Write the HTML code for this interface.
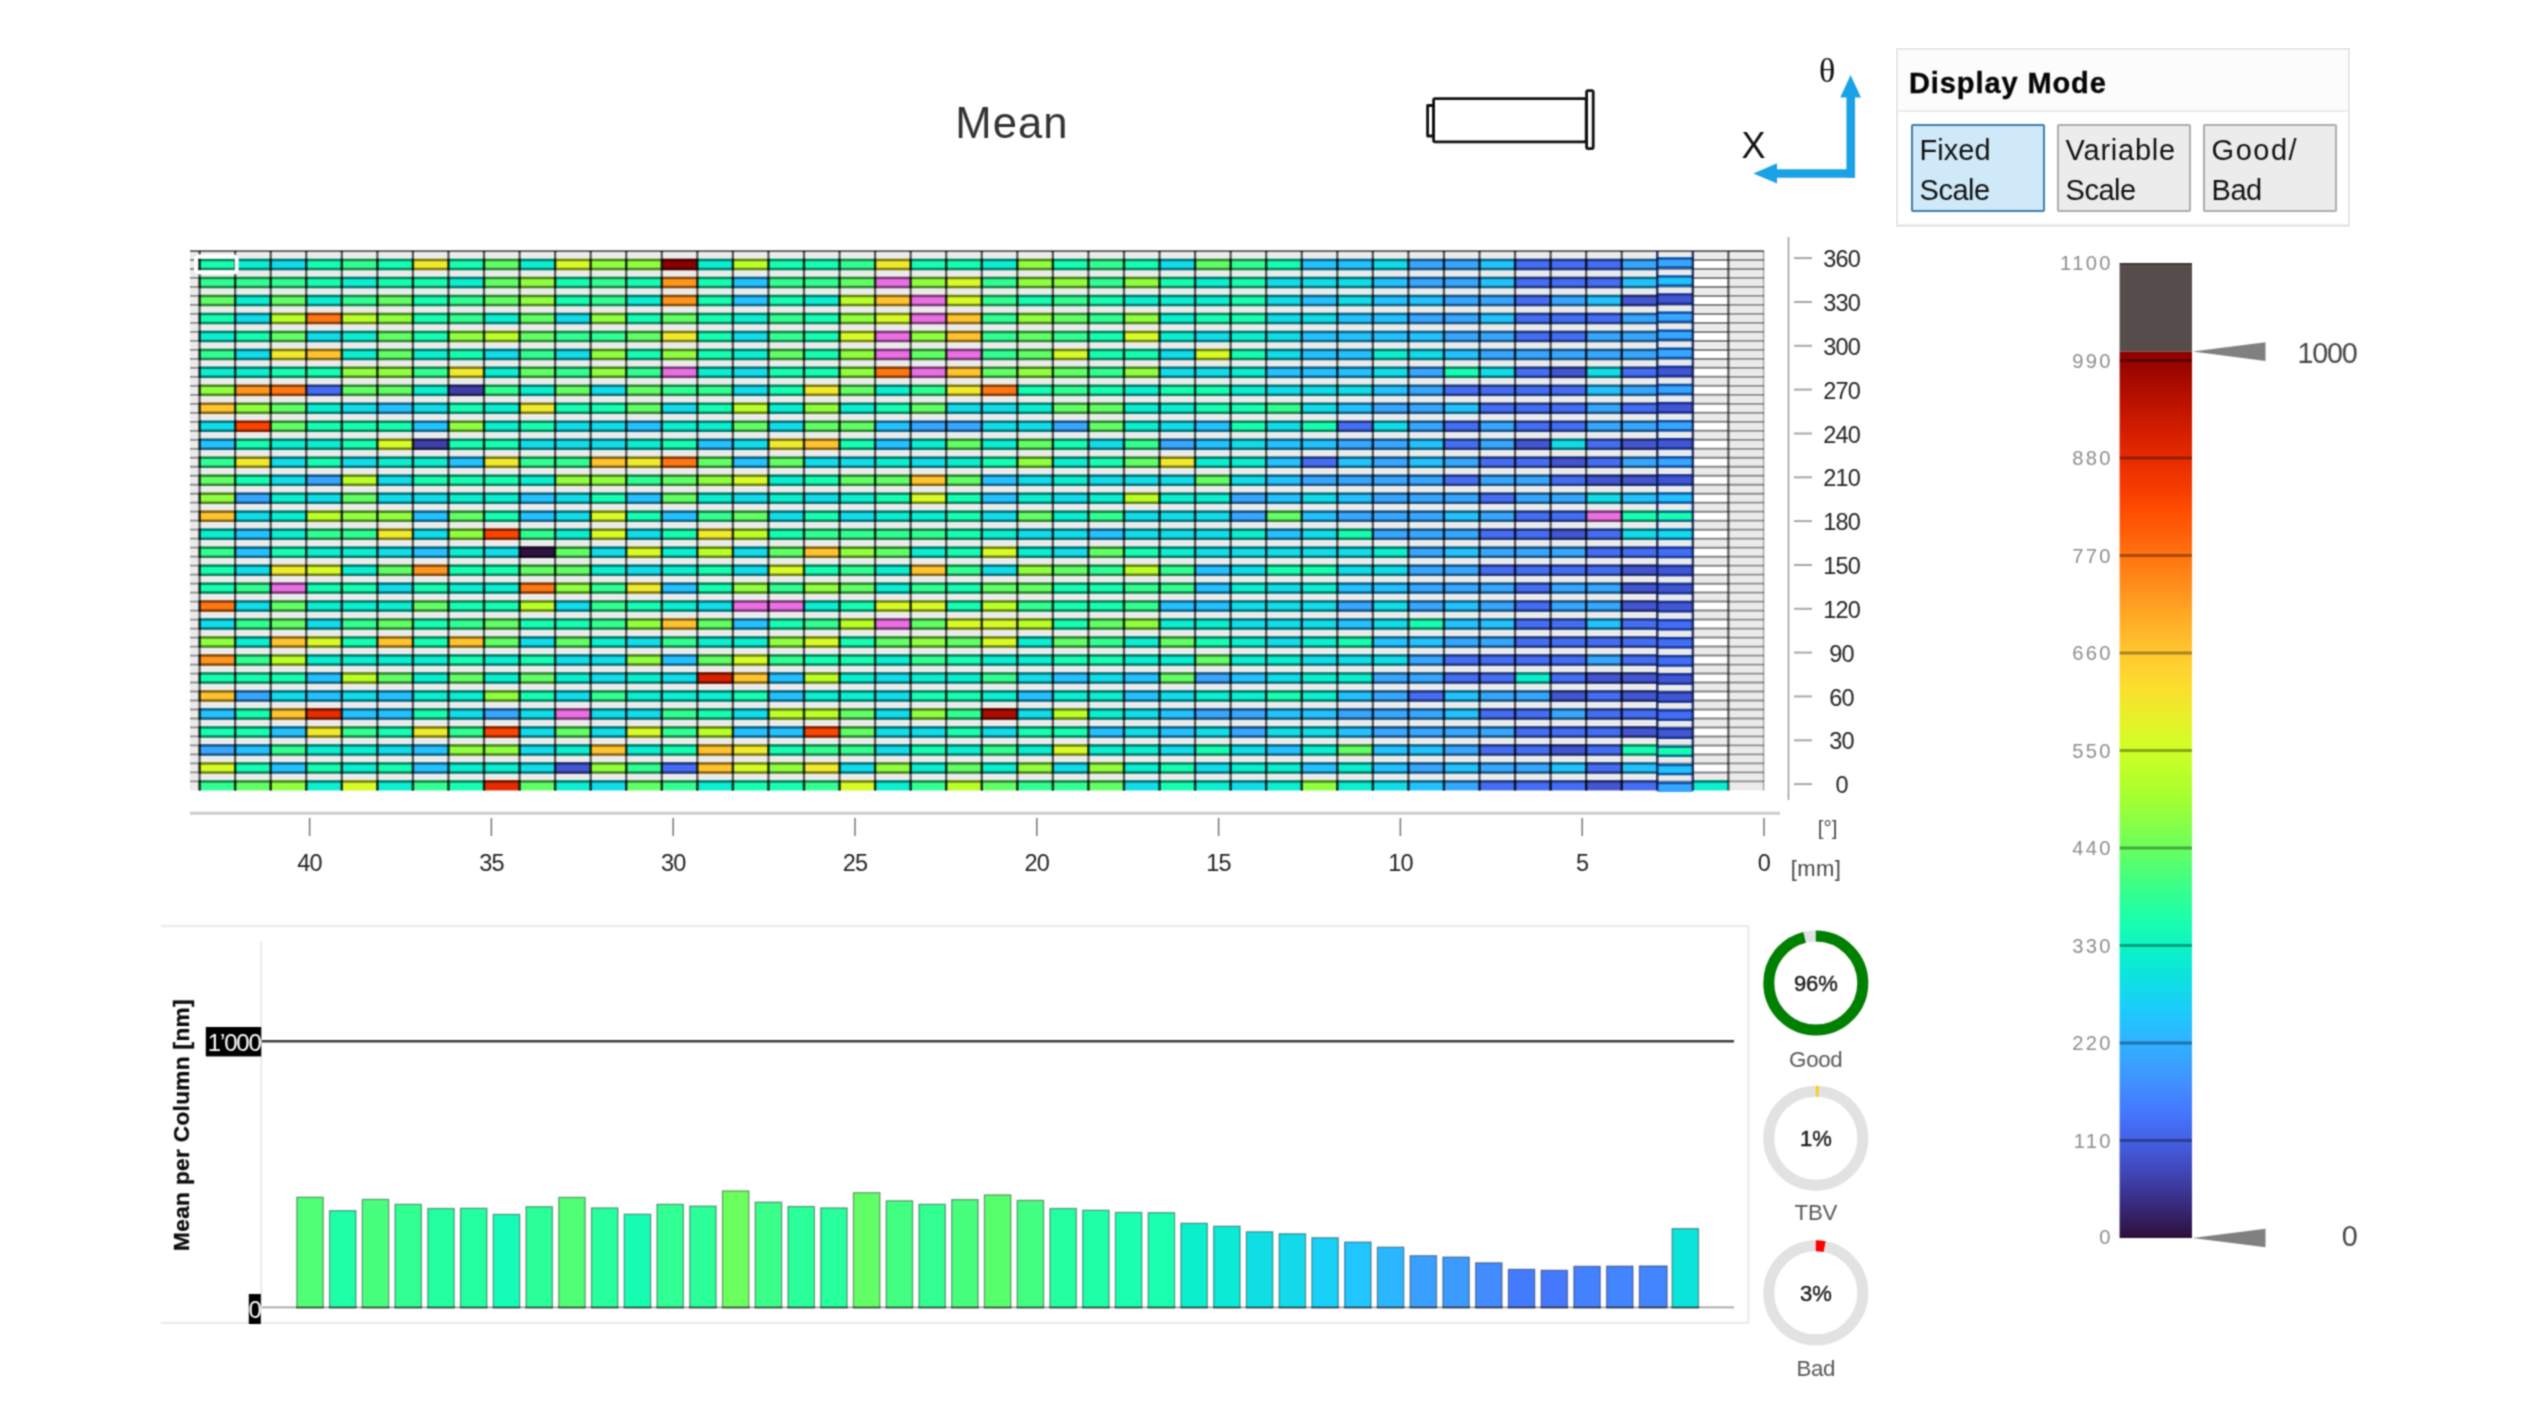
<!DOCTYPE html>
<html lang="en"><head><meta charset="utf-8"><title>Mean</title>
<style>
html,body{margin:0;padding:0;background:#fff;}
body{width:2533px;height:1425px;position:relative;overflow:hidden;font-family:"Liberation Sans",sans-serif;}
svg{position:absolute;left:0;top:0;}
svg{filter:url(#bl);}
#panel{filter:url(#bl);}
text{font-family:"Liberation Sans",sans-serif;}
.ax{font-size:23.5px;fill:#242424;letter-spacing:-0.8px;}
.unit{font-size:22px;fill:#484848;}
.cb{font-size:20.2px;fill:#8e8e8e;letter-spacing:2.35px;}
.cbv{font-size:28.8px;fill:#484848;letter-spacing:-1.25px;}
.yl{font-size:24px;fill:#fff;letter-spacing:-1.2px;}
.yt{font-size:22.6px;font-weight:bold;fill:#0c0c0c;stroke:#0c0c0c;stroke-width:0.3px;letter-spacing:0.35px;}
.dp{font-size:22px;fill:#1c1c1c;stroke:#1c1c1c;stroke-width:0.45px;letter-spacing:-0.2px;}
.dl{font-size:22.3px;fill:#5a5a5a;letter-spacing:-0.3px;}
.theta{font-family:"Liberation Serif",serif;font-size:34px;fill:#111;}
.xl{font-size:36px;fill:#111;}
.title{font-size:43.6px;fill:#333;letter-spacing:1.1px;}
#panel{position:absolute;left:1896px;top:47.6px;width:454px;height:178.4px;border:2px solid #e9e9e9;box-sizing:border-box;background:#fff;}
#panel h2{margin:0;height:62px;box-sizing:border-box;border-bottom:2px solid #ebebeb;background:#fcfcfc;font-size:29px;line-height:66.6px;padding-left:11px;font-weight:bold;color:#060606;letter-spacing:0.9px;-webkit-text-stroke:0.35px #060606;}
#panel .btns{position:absolute;left:0;top:0;}
.btn{position:absolute;top:74px;width:134px;height:88px;box-sizing:border-box;border:2px solid #adadad;background:#ececec;color:#111;font-size:29px;line-height:40.5px;padding:4.1px 0 0 6.6px;border-radius:2px;letter-spacing:-0.5px;white-space:nowrap;}
.btn.sel{border-color:#3c7fb1;background:#cfe9f8;}
</style></head><body>
<svg width="2533" height="1425" viewBox="0 0 2533 1425">
<defs><filter id="bl" x="0" y="0" width="100%" height="100%" color-interpolation-filters="sRGB"><feConvolveMatrix order="3" kernelMatrix="0.0484 0.1232 0.0484 0.1232 0.3136 0.1232 0.0484 0.1232 0.0484" edgeMode="duplicate" preserveAlpha="false"/></filter></defs>
<g id="rest">
<g fill="#fff" stroke="#111" stroke-width="2.8" stroke-linejoin="round">
<rect x="1427.6" y="105.5" width="6" height="30.5"/>
<rect x="1433.6" y="98.6" width="152.6" height="43.2" rx="1.5"/>
<rect x="1586.6" y="90.6" width="6.6" height="58" rx="1.5"/>
</g>
<g fill="#1ba1e6">
<path d="M1846.4 177.8V97.6H1840.2L1850.6 75L1861 97.6H1855V177.8Z"/>
<path d="M1855 169.2H1777V163.2L1753.4 173.4L1777 183.6V177.8H1855Z"/>
</g>
<text x="1827.2" y="82" text-anchor="middle" class="theta">θ</text>
<text x="1753.6" y="158.4" text-anchor="middle" class="xl">X</text>
<text x="1012" y="138" text-anchor="middle" class="title">Mean</text>
<path d="M1788.5 237V800" stroke="#9a9a9a" stroke-width="1.5" fill="none"/>
<path d="M1794 784.1H1812" stroke="#a8a8a8" stroke-width="2"/>
<text x="1841.6" y="793.2" text-anchor="middle" class="ax">0</text>
<path d="M1794 740.3H1812" stroke="#a8a8a8" stroke-width="2"/>
<text x="1841.6" y="749.4" text-anchor="middle" class="ax">30</text>
<path d="M1794 696.4H1812" stroke="#a8a8a8" stroke-width="2"/>
<text x="1841.6" y="705.5" text-anchor="middle" class="ax">60</text>
<path d="M1794 652.6H1812" stroke="#a8a8a8" stroke-width="2"/>
<text x="1841.6" y="661.7" text-anchor="middle" class="ax">90</text>
<path d="M1794 608.8H1812" stroke="#a8a8a8" stroke-width="2"/>
<text x="1841.6" y="617.9" text-anchor="middle" class="ax">120</text>
<path d="M1794 565.0H1812" stroke="#a8a8a8" stroke-width="2"/>
<text x="1841.6" y="574.1" text-anchor="middle" class="ax">150</text>
<path d="M1794 521.1H1812" stroke="#a8a8a8" stroke-width="2"/>
<text x="1841.6" y="530.2" text-anchor="middle" class="ax">180</text>
<path d="M1794 477.3H1812" stroke="#a8a8a8" stroke-width="2"/>
<text x="1841.6" y="486.4" text-anchor="middle" class="ax">210</text>
<path d="M1794 433.5H1812" stroke="#a8a8a8" stroke-width="2"/>
<text x="1841.6" y="442.6" text-anchor="middle" class="ax">240</text>
<path d="M1794 389.6H1812" stroke="#a8a8a8" stroke-width="2"/>
<text x="1841.6" y="398.7" text-anchor="middle" class="ax">270</text>
<path d="M1794 345.8H1812" stroke="#a8a8a8" stroke-width="2"/>
<text x="1841.6" y="354.9" text-anchor="middle" class="ax">300</text>
<path d="M1794 302.0H1812" stroke="#a8a8a8" stroke-width="2"/>
<text x="1841.6" y="311.1" text-anchor="middle" class="ax">330</text>
<path d="M1794 258.1H1812" stroke="#a8a8a8" stroke-width="2"/>
<text x="1841.6" y="267.2" text-anchor="middle" class="ax">360</text>
<path d="M190 813.3H1780" stroke="#cdcdcd" stroke-width="3"/>
<path d="M1764.0 818V836" stroke="#777" stroke-width="1.5"/>
<text x="1764.0" y="871" text-anchor="middle" class="ax">0</text>
<path d="M1582.2 818V836" stroke="#777" stroke-width="1.5"/>
<text x="1582.2" y="871" text-anchor="middle" class="ax">5</text>
<path d="M1400.4 818V836" stroke="#777" stroke-width="1.5"/>
<text x="1400.4" y="871" text-anchor="middle" class="ax">10</text>
<path d="M1218.6 818V836" stroke="#777" stroke-width="1.5"/>
<text x="1218.6" y="871" text-anchor="middle" class="ax">15</text>
<path d="M1036.8 818V836" stroke="#777" stroke-width="1.5"/>
<text x="1036.8" y="871" text-anchor="middle" class="ax">20</text>
<path d="M855.0 818V836" stroke="#777" stroke-width="1.5"/>
<text x="855.0" y="871" text-anchor="middle" class="ax">25</text>
<path d="M673.2 818V836" stroke="#777" stroke-width="1.5"/>
<text x="673.2" y="871" text-anchor="middle" class="ax">30</text>
<path d="M491.4 818V836" stroke="#777" stroke-width="1.5"/>
<text x="491.4" y="871" text-anchor="middle" class="ax">35</text>
<path d="M309.6 818V836" stroke="#777" stroke-width="1.5"/>
<text x="309.6" y="871" text-anchor="middle" class="ax">40</text>
<text x="1827.6" y="834.6" text-anchor="middle" class="unit" style="font-size:20.5px">[°]</text>
<text x="1816" y="876" text-anchor="middle" class="unit" style="letter-spacing:0.4px">[mm]</text>
<defs><linearGradient id="tg" x1="0" y1="0" x2="0" y2="1"><stop offset="0.000" stop-color="#890100"/><stop offset="0.020" stop-color="#9c0600"/><stop offset="0.040" stop-color="#ad0c00"/><stop offset="0.060" stop-color="#bd1200"/><stop offset="0.080" stop-color="#cc1a00"/><stop offset="0.100" stop-color="#d92200"/><stop offset="0.120" stop-color="#e52b00"/><stop offset="0.140" stop-color="#ef3500"/><stop offset="0.160" stop-color="#f83f00"/><stop offset="0.180" stop-color="#ff4e03"/><stop offset="0.200" stop-color="#ff5b07"/><stop offset="0.220" stop-color="#ff6b0d"/><stop offset="0.240" stop-color="#ff7b13"/><stop offset="0.260" stop-color="#ff8b1a"/><stop offset="0.280" stop-color="#ff9b20"/><stop offset="0.300" stop-color="#ffab26"/><stop offset="0.320" stop-color="#ffb92b"/><stop offset="0.340" stop-color="#ffc82e"/><stop offset="0.360" stop-color="#ffd32f"/><stop offset="0.380" stop-color="#fadf2d"/><stop offset="0.400" stop-color="#efea2b"/><stop offset="0.420" stop-color="#e2f328"/><stop offset="0.440" stop-color="#d5fc26"/><stop offset="0.460" stop-color="#c6ff26"/><stop offset="0.480" stop-color="#b7ff29"/><stop offset="0.500" stop-color="#a8ff2f"/><stop offset="0.520" stop-color="#94ff3c"/><stop offset="0.540" stop-color="#80ff4c"/><stop offset="0.560" stop-color="#6aff5d"/><stop offset="0.580" stop-color="#53ff71"/><stop offset="0.600" stop-color="#3eff85"/><stop offset="0.620" stop-color="#2bff99"/><stop offset="0.640" stop-color="#1bffab"/><stop offset="0.660" stop-color="#10f9bb"/><stop offset="0.680" stop-color="#0befcc"/><stop offset="0.700" stop-color="#0ce5db"/><stop offset="0.720" stop-color="#12daeb"/><stop offset="0.740" stop-color="#1bcdf9"/><stop offset="0.760" stop-color="#25c0ff"/><stop offset="0.780" stop-color="#2fb1ff"/><stop offset="0.800" stop-color="#39a3ff"/><stop offset="0.820" stop-color="#3f95ff"/><stop offset="0.840" stop-color="#4384ff"/><stop offset="0.860" stop-color="#4476fd"/><stop offset="0.880" stop-color="#4467ec"/><stop offset="0.900" stop-color="#4359d7"/><stop offset="0.920" stop-color="#404abe"/><stop offset="0.940" stop-color="#3d3ba1"/><stop offset="0.960" stop-color="#392c81"/><stop offset="0.980" stop-color="#331e5d"/><stop offset="1.000" stop-color="#2d0f38"/></linearGradient></defs>
<rect x="2119.6" y="263.0" width="72.4" height="88.6" fill="#564c4c"/>
<rect x="2119.6" y="351.6" width="72.4" height="886.4" fill="url(#tg)"/>
<path d="M2119.6 263.7H2192" stroke="#000" stroke-opacity="0.35" stroke-width="1.5"/>
<text x="2112.9" y="1244.1" text-anchor="end" class="cb">0</text>
<path d="M2119.6 1140.5H2192" stroke="#000" stroke-opacity="0.34" stroke-width="3"/>
<text x="2112.9" y="1147.8" text-anchor="end" class="cb">110</text>
<path d="M2119.6 1043.0H2192" stroke="#000" stroke-opacity="0.34" stroke-width="3"/>
<text x="2112.9" y="1050.3" text-anchor="end" class="cb">220</text>
<path d="M2119.6 945.5H2192" stroke="#000" stroke-opacity="0.34" stroke-width="3"/>
<text x="2112.9" y="952.8" text-anchor="end" class="cb">330</text>
<path d="M2119.6 848.0H2192" stroke="#000" stroke-opacity="0.34" stroke-width="3"/>
<text x="2112.9" y="855.3" text-anchor="end" class="cb">440</text>
<path d="M2119.6 750.5H2192" stroke="#000" stroke-opacity="0.34" stroke-width="3"/>
<text x="2112.9" y="757.8" text-anchor="end" class="cb">550</text>
<path d="M2119.6 653.0H2192" stroke="#000" stroke-opacity="0.34" stroke-width="3"/>
<text x="2112.9" y="660.3" text-anchor="end" class="cb">660</text>
<path d="M2119.6 555.5H2192" stroke="#000" stroke-opacity="0.34" stroke-width="3"/>
<text x="2112.9" y="562.8" text-anchor="end" class="cb">770</text>
<path d="M2119.6 458.0H2192" stroke="#000" stroke-opacity="0.34" stroke-width="3"/>
<text x="2112.9" y="465.3" text-anchor="end" class="cb">880</text>
<path d="M2119.6 360.5H2192" stroke="#000" stroke-opacity="0.34" stroke-width="3"/>
<text x="2112.9" y="367.8" text-anchor="end" class="cb">990</text>
<text x="2112.9" y="270.3" text-anchor="end" class="cb">1100</text>
<path d="M2192.5 351.6L2265.5 342.3V360.9Z" fill="#808080"/>
<text x="2356.6" y="363.2" text-anchor="end" class="cbv">1000</text>
<path d="M2192.5 1238.0L2265.5 1228.7V1247.3Z" fill="#808080"/>
<text x="2356.6" y="1246.4" text-anchor="end" class="cbv">0</text>
<path d="M161 926.2H1748.2V1322.8H161" fill="none" stroke="#ececec" stroke-width="2.2"/>
<path d="M261.3 941V1310" stroke="#e6e6e6" stroke-width="1.6"/>
<path d="M262 1307.3H1734" stroke="#a4a4a4" stroke-width="1.8"/>
<rect x="296.80" y="1197.25" width="26.40" height="110.45" fill="#4fff75" stroke="#000" stroke-opacity="0.38" stroke-width="1.3"/>
<rect x="329.55" y="1210.67" width="26.40" height="97.03" fill="#1effa8" stroke="#000" stroke-opacity="0.38" stroke-width="1.3"/>
<rect x="362.29" y="1199.42" width="26.40" height="108.28" fill="#47ff7d" stroke="#000" stroke-opacity="0.38" stroke-width="1.3"/>
<rect x="395.03" y="1204.35" width="26.40" height="103.35" fill="#32ff91" stroke="#000" stroke-opacity="0.38" stroke-width="1.3"/>
<rect x="427.78" y="1208.50" width="26.40" height="99.20" fill="#24ffa0" stroke="#000" stroke-opacity="0.38" stroke-width="1.3"/>
<rect x="460.52" y="1208.30" width="26.40" height="99.40" fill="#24ffa0" stroke="#000" stroke-opacity="0.38" stroke-width="1.3"/>
<rect x="493.27" y="1214.42" width="26.40" height="93.28" fill="#14fcb5" stroke="#000" stroke-opacity="0.38" stroke-width="1.3"/>
<rect x="526.01" y="1206.72" width="26.40" height="100.98" fill="#2bff99" stroke="#000" stroke-opacity="0.38" stroke-width="1.3"/>
<rect x="558.76" y="1197.45" width="26.40" height="110.25" fill="#4fff75" stroke="#000" stroke-opacity="0.38" stroke-width="1.3"/>
<rect x="591.50" y="1207.91" width="26.40" height="99.79" fill="#28ff9d" stroke="#000" stroke-opacity="0.38" stroke-width="1.3"/>
<rect x="624.25" y="1214.22" width="26.40" height="93.48" fill="#16fdb2" stroke="#000" stroke-opacity="0.38" stroke-width="1.3"/>
<rect x="657.00" y="1204.35" width="26.40" height="103.35" fill="#32ff91" stroke="#000" stroke-opacity="0.38" stroke-width="1.3"/>
<rect x="689.74" y="1206.13" width="26.40" height="101.57" fill="#2bff99" stroke="#000" stroke-opacity="0.38" stroke-width="1.3"/>
<rect x="722.49" y="1190.93" width="26.40" height="116.77" fill="#6aff5d" stroke="#000" stroke-opacity="0.38" stroke-width="1.3"/>
<rect x="755.23" y="1202.18" width="26.40" height="105.52" fill="#3aff89" stroke="#000" stroke-opacity="0.38" stroke-width="1.3"/>
<rect x="787.98" y="1206.53" width="26.40" height="101.17" fill="#2bff99" stroke="#000" stroke-opacity="0.38" stroke-width="1.3"/>
<rect x="820.72" y="1207.91" width="26.40" height="99.79" fill="#28ff9d" stroke="#000" stroke-opacity="0.38" stroke-width="1.3"/>
<rect x="853.47" y="1192.71" width="26.40" height="114.99" fill="#61ff65" stroke="#000" stroke-opacity="0.38" stroke-width="1.3"/>
<rect x="886.21" y="1200.80" width="26.40" height="106.90" fill="#42ff81" stroke="#000" stroke-opacity="0.38" stroke-width="1.3"/>
<rect x="918.96" y="1204.35" width="26.40" height="103.35" fill="#32ff91" stroke="#000" stroke-opacity="0.38" stroke-width="1.3"/>
<rect x="951.70" y="1199.62" width="26.40" height="108.08" fill="#47ff7d" stroke="#000" stroke-opacity="0.38" stroke-width="1.3"/>
<rect x="984.45" y="1194.88" width="26.40" height="112.82" fill="#58ff6d" stroke="#000" stroke-opacity="0.38" stroke-width="1.3"/>
<rect x="1017.19" y="1200.41" width="26.40" height="107.29" fill="#42ff81" stroke="#000" stroke-opacity="0.38" stroke-width="1.3"/>
<rect x="1049.93" y="1208.50" width="26.40" height="99.20" fill="#24ffa0" stroke="#000" stroke-opacity="0.38" stroke-width="1.3"/>
<rect x="1082.68" y="1210.28" width="26.40" height="97.42" fill="#1effa8" stroke="#000" stroke-opacity="0.38" stroke-width="1.3"/>
<rect x="1115.42" y="1212.45" width="26.40" height="95.25" fill="#19ffaf" stroke="#000" stroke-opacity="0.38" stroke-width="1.3"/>
<rect x="1148.17" y="1212.65" width="26.40" height="95.05" fill="#19ffaf" stroke="#000" stroke-opacity="0.38" stroke-width="1.3"/>
<rect x="1180.91" y="1223.30" width="26.40" height="84.40" fill="#0befcc" stroke="#000" stroke-opacity="0.38" stroke-width="1.3"/>
<rect x="1213.66" y="1226.27" width="26.40" height="81.43" fill="#0bead5" stroke="#000" stroke-opacity="0.38" stroke-width="1.3"/>
<rect x="1246.40" y="1231.79" width="26.40" height="75.91" fill="#0fdfe5" stroke="#000" stroke-opacity="0.38" stroke-width="1.3"/>
<rect x="1279.15" y="1233.77" width="26.40" height="73.93" fill="#12daeb" stroke="#000" stroke-opacity="0.38" stroke-width="1.3"/>
<rect x="1311.89" y="1237.71" width="26.40" height="69.99" fill="#19d0f7" stroke="#000" stroke-opacity="0.38" stroke-width="1.3"/>
<rect x="1344.64" y="1242.06" width="26.40" height="65.64" fill="#21c5ff" stroke="#000" stroke-opacity="0.38" stroke-width="1.3"/>
<rect x="1377.38" y="1247.19" width="26.40" height="60.51" fill="#2bb7ff" stroke="#000" stroke-opacity="0.38" stroke-width="1.3"/>
<rect x="1410.13" y="1255.68" width="26.40" height="52.02" fill="#3aa0ff" stroke="#000" stroke-opacity="0.38" stroke-width="1.3"/>
<rect x="1442.87" y="1257.06" width="26.40" height="50.64" fill="#3d9aff" stroke="#000" stroke-opacity="0.38" stroke-width="1.3"/>
<rect x="1475.62" y="1262.78" width="26.40" height="44.92" fill="#428cff" stroke="#000" stroke-opacity="0.38" stroke-width="1.3"/>
<rect x="1508.36" y="1269.30" width="26.40" height="38.40" fill="#437bff" stroke="#000" stroke-opacity="0.38" stroke-width="1.3"/>
<rect x="1541.11" y="1270.28" width="26.40" height="37.42" fill="#4479ff" stroke="#000" stroke-opacity="0.38" stroke-width="1.3"/>
<rect x="1573.85" y="1266.34" width="26.40" height="41.36" fill="#4381ff" stroke="#000" stroke-opacity="0.38" stroke-width="1.3"/>
<rect x="1606.60" y="1266.14" width="26.40" height="41.56" fill="#4384ff" stroke="#000" stroke-opacity="0.38" stroke-width="1.3"/>
<rect x="1639.34" y="1265.94" width="27.80" height="41.76" fill="#4384ff" stroke="#000" stroke-opacity="0.38" stroke-width="1.3"/>
<rect x="1672.09" y="1228.63" width="26.40" height="79.07" fill="#0ce5db" stroke="#000" stroke-opacity="0.38" stroke-width="1.3"/>
<path d="M296.2 1307.3H1700" stroke="#000" stroke-opacity="0.45" stroke-width="1.8" stroke-dasharray="27.6 5.145"/>
<path d="M262 1041.2H1734" stroke="#3c3c3c" stroke-width="2.4"/>
<rect x="205.8" y="1027" width="55.4" height="29.4" fill="#000"/>
<text x="260.6" y="1051.3" text-anchor="end" class="yl">1’000</text>
<rect x="248.8" y="1294" width="12" height="30" fill="#000"/>
<text x="260.6" y="1317.6" text-anchor="end" class="yl">0</text>
<text transform="translate(188.6 1125) rotate(-90)" text-anchor="middle" class="yt">Mean per Column [nm]</text>
<circle cx="1815.8" cy="983.0" r="47.0" fill="none" stroke="#e2e2e2" stroke-width="11.0"/>
<circle cx="1815.8" cy="983.0" r="47.0" fill="none" stroke="#008000" stroke-width="11.0" stroke-dasharray="283.50 295.31" transform="rotate(-90 1815.8 983.0)"/>
<text x="1815.8" y="991.0" text-anchor="middle" class="dp">96%</text>
<text x="1815.8" y="1066.5" text-anchor="middle" class="dl">Good</text>
<circle cx="1815.8" cy="1138.2" r="47.0" fill="none" stroke="#e2e2e2" stroke-width="11.0"/>
<circle cx="1815.8" cy="1138.2" r="47.0" fill="none" stroke="#f5d020" stroke-width="11.0" stroke-dasharray="2.95 295.31" transform="rotate(-90 1815.8 1138.2)"/>
<text x="1815.8" y="1146.2" text-anchor="middle" class="dp">1%</text>
<text x="1815.8" y="1220" text-anchor="middle" class="dl">TBV</text>
<circle cx="1815.8" cy="1292.8" r="47.0" fill="none" stroke="#e2e2e2" stroke-width="11.0"/>
<circle cx="1815.8" cy="1292.8" r="47.0" fill="none" stroke="#ff0000" stroke-width="11.0" stroke-dasharray="8.86 295.31" transform="rotate(-90 1815.8 1292.8)"/>
<text x="1815.8" y="1300.8" text-anchor="middle" class="dp">3%</text>
<text x="1815.8" y="1375.5" text-anchor="middle" class="dl">Bad</text>
</g>
<g id="heat">
<rect x="190.0" y="251.0" width="1573.93" height="539.40" fill="#ebebeb"/>
<path d="M190.0 251.00H1763.93M190.0 259.99H1763.93M190.0 268.98H1763.93M190.0 277.97H1763.93M190.0 286.96H1763.93M190.0 295.95H1763.93M190.0 304.94H1763.93M190.0 313.93H1763.93M190.0 322.92H1763.93M190.0 331.91H1763.93M190.0 340.90H1763.93M190.0 349.89H1763.93M190.0 358.88H1763.93M190.0 367.87H1763.93M190.0 376.86H1763.93M190.0 385.85H1763.93M190.0 394.84H1763.93M190.0 403.83H1763.93M190.0 412.82H1763.93M190.0 421.81H1763.93M190.0 430.80H1763.93M190.0 439.79H1763.93M190.0 448.78H1763.93M190.0 457.77H1763.93M190.0 466.76H1763.93M190.0 475.75H1763.93M190.0 484.74H1763.93M190.0 493.73H1763.93M190.0 502.72H1763.93M190.0 511.71H1763.93M190.0 520.70H1763.93M190.0 529.69H1763.93M190.0 538.68H1763.93M190.0 547.67H1763.93M190.0 556.66H1763.93M190.0 565.65H1763.93M190.0 574.64H1763.93M190.0 583.63H1763.93M190.0 592.62H1763.93M190.0 601.61H1763.93M190.0 610.60H1763.93M190.0 619.59H1763.93M190.0 628.58H1763.93M190.0 637.57H1763.93M190.0 646.56H1763.93M190.0 655.55H1763.93M190.0 664.54H1763.93M190.0 673.53H1763.93M190.0 682.52H1763.93M190.0 691.51H1763.93M190.0 700.50H1763.93M190.0 709.49H1763.93M190.0 718.48H1763.93M190.0 727.47H1763.93M190.0 736.46H1763.93M190.0 745.45H1763.93M190.0 754.44H1763.93M190.0 763.43H1763.93M190.0 772.42H1763.93M190.0 781.41H1763.93" stroke="#000" stroke-opacity="0.4" stroke-width="1.8" fill="none"/>
<rect x="199.60" y="258.74" width="35.55" height="11.49" fill="#16feb2"/>
<rect x="235.15" y="258.74" width="35.55" height="11.49" fill="#0beecf"/>
<rect x="270.71" y="258.74" width="35.55" height="11.49" fill="#11dce8"/>
<rect x="306.26" y="258.74" width="35.55" height="11.49" fill="#16feb2"/>
<rect x="341.81" y="258.74" width="35.55" height="11.49" fill="#32ff91"/>
<rect x="377.37" y="258.74" width="35.55" height="11.49" fill="#16feb2"/>
<rect x="412.92" y="258.74" width="35.55" height="11.49" fill="#efea2b"/>
<rect x="448.47" y="258.74" width="35.55" height="11.49" fill="#16feb2"/>
<rect x="484.02" y="258.74" width="35.55" height="11.49" fill="#61ff65"/>
<rect x="519.58" y="258.74" width="35.55" height="11.49" fill="#0beecf"/>
<rect x="555.13" y="258.74" width="35.55" height="11.49" fill="#d7fb27"/>
<rect x="590.68" y="258.74" width="71.11" height="11.49" fill="#90ff3f"/>
<rect x="661.79" y="258.74" width="35.55" height="11.49" fill="#890100"/>
<rect x="697.34" y="258.74" width="35.55" height="11.49" fill="#0beecf"/>
<rect x="732.89" y="258.74" width="35.55" height="11.49" fill="#baff28"/>
<rect x="768.45" y="258.74" width="71.11" height="11.49" fill="#16feb2"/>
<rect x="839.55" y="258.74" width="35.55" height="11.49" fill="#32ff91"/>
<rect x="875.11" y="258.74" width="35.55" height="11.49" fill="#efea2b"/>
<rect x="910.66" y="258.74" width="71.11" height="11.49" fill="#16feb2"/>
<rect x="981.77" y="258.74" width="35.55" height="11.49" fill="#0beecf"/>
<rect x="1017.32" y="258.74" width="35.55" height="11.49" fill="#90ff3f"/>
<rect x="1052.87" y="258.74" width="35.55" height="11.49" fill="#16feb2"/>
<rect x="1088.42" y="258.74" width="35.55" height="11.49" fill="#32ff91"/>
<rect x="1123.98" y="258.74" width="35.55" height="11.49" fill="#16feb2"/>
<rect x="1159.53" y="258.74" width="35.55" height="11.49" fill="#11dce8"/>
<rect x="1195.08" y="258.74" width="35.55" height="11.49" fill="#61ff65"/>
<rect x="1230.64" y="258.74" width="35.55" height="11.49" fill="#32ff91"/>
<rect x="1266.19" y="258.74" width="35.55" height="11.49" fill="#16feb2"/>
<rect x="1301.74" y="258.74" width="71.11" height="11.49" fill="#23c2ff"/>
<rect x="1372.85" y="258.74" width="35.55" height="11.49" fill="#11dce8"/>
<rect x="1408.40" y="258.74" width="71.11" height="11.49" fill="#37a6ff"/>
<rect x="1479.51" y="258.74" width="35.55" height="11.49" fill="#23c2ff"/>
<rect x="1515.06" y="258.74" width="106.66" height="11.49" fill="#446df3"/>
<rect x="1621.72" y="258.74" width="35.55" height="11.49" fill="#37a6ff"/>
<rect x="1657.27" y="257.17" width="35.55" height="11.56" fill="#37a6ff"/>
<rect x="1692.83" y="258.74" width="35.55" height="11.49" fill="#ffffff"/>
<rect x="199.60" y="276.72" width="106.66" height="11.49" fill="#32ff91"/>
<rect x="306.26" y="276.72" width="35.55" height="11.49" fill="#16feb2"/>
<rect x="341.81" y="276.72" width="35.55" height="11.49" fill="#0beecf"/>
<rect x="377.37" y="276.72" width="71.11" height="11.49" fill="#16feb2"/>
<rect x="448.47" y="276.72" width="35.55" height="11.49" fill="#0beecf"/>
<rect x="484.02" y="276.72" width="35.55" height="11.49" fill="#61ff65"/>
<rect x="519.58" y="276.72" width="35.55" height="11.49" fill="#90ff3f"/>
<rect x="555.13" y="276.72" width="35.55" height="11.49" fill="#16feb2"/>
<rect x="590.68" y="276.72" width="35.55" height="11.49" fill="#32ff91"/>
<rect x="626.24" y="276.72" width="35.55" height="11.49" fill="#16feb2"/>
<rect x="661.79" y="276.72" width="35.55" height="11.49" fill="#ff951e"/>
<rect x="697.34" y="276.72" width="35.55" height="11.49" fill="#16feb2"/>
<rect x="732.89" y="276.72" width="35.55" height="11.49" fill="#23c2ff"/>
<rect x="768.45" y="276.72" width="71.11" height="11.49" fill="#32ff91"/>
<rect x="839.55" y="276.72" width="35.55" height="11.49" fill="#61ff65"/>
<rect x="875.11" y="276.72" width="35.55" height="11.49" fill="#e96fe3"/>
<rect x="910.66" y="276.72" width="35.55" height="11.49" fill="#90ff3f"/>
<rect x="946.21" y="276.72" width="35.55" height="11.49" fill="#d7fb27"/>
<rect x="981.77" y="276.72" width="35.55" height="11.49" fill="#32ff91"/>
<rect x="1017.32" y="276.72" width="71.11" height="11.49" fill="#90ff3f"/>
<rect x="1088.42" y="276.72" width="35.55" height="11.49" fill="#32ff91"/>
<rect x="1123.98" y="276.72" width="35.55" height="11.49" fill="#90ff3f"/>
<rect x="1159.53" y="276.72" width="35.55" height="11.49" fill="#16feb2"/>
<rect x="1195.08" y="276.72" width="35.55" height="11.49" fill="#0beecf"/>
<rect x="1230.64" y="276.72" width="35.55" height="11.49" fill="#16feb2"/>
<rect x="1266.19" y="276.72" width="106.66" height="11.49" fill="#11dce8"/>
<rect x="1372.85" y="276.72" width="35.55" height="11.49" fill="#23c2ff"/>
<rect x="1408.40" y="276.72" width="71.11" height="11.49" fill="#37a6ff"/>
<rect x="1479.51" y="276.72" width="35.55" height="11.49" fill="#23c2ff"/>
<rect x="1515.06" y="276.72" width="106.66" height="11.49" fill="#446df3"/>
<rect x="1621.72" y="276.72" width="35.55" height="11.49" fill="#23c2ff"/>
<rect x="1657.27" y="275.26" width="35.55" height="11.56" fill="#23c2ff"/>
<rect x="1692.83" y="276.72" width="35.55" height="11.49" fill="#ffffff"/>
<rect x="199.60" y="294.70" width="35.55" height="11.49" fill="#61ff65"/>
<rect x="235.15" y="294.70" width="35.55" height="11.49" fill="#0beecf"/>
<rect x="270.71" y="294.70" width="35.55" height="11.49" fill="#61ff65"/>
<rect x="306.26" y="294.70" width="35.55" height="11.49" fill="#0beecf"/>
<rect x="341.81" y="294.70" width="35.55" height="11.49" fill="#32ff91"/>
<rect x="377.37" y="294.70" width="35.55" height="11.49" fill="#61ff65"/>
<rect x="412.92" y="294.70" width="35.55" height="11.49" fill="#16feb2"/>
<rect x="448.47" y="294.70" width="35.55" height="11.49" fill="#32ff91"/>
<rect x="484.02" y="294.70" width="35.55" height="11.49" fill="#61ff65"/>
<rect x="519.58" y="294.70" width="35.55" height="11.49" fill="#90ff3f"/>
<rect x="555.13" y="294.70" width="35.55" height="11.49" fill="#16feb2"/>
<rect x="590.68" y="294.70" width="35.55" height="11.49" fill="#32ff91"/>
<rect x="626.24" y="294.70" width="35.55" height="11.49" fill="#0beecf"/>
<rect x="661.79" y="294.70" width="35.55" height="11.49" fill="#ff951e"/>
<rect x="697.34" y="294.70" width="35.55" height="11.49" fill="#16feb2"/>
<rect x="732.89" y="294.70" width="35.55" height="11.49" fill="#23c2ff"/>
<rect x="768.45" y="294.70" width="35.55" height="11.49" fill="#16feb2"/>
<rect x="804.00" y="294.70" width="35.55" height="11.49" fill="#0beecf"/>
<rect x="839.55" y="294.70" width="35.55" height="11.49" fill="#baff28"/>
<rect x="875.11" y="294.70" width="35.55" height="11.49" fill="#ffc32d"/>
<rect x="910.66" y="294.70" width="35.55" height="11.49" fill="#e96fe3"/>
<rect x="946.21" y="294.70" width="35.55" height="11.49" fill="#d7fb27"/>
<rect x="981.77" y="294.70" width="35.55" height="11.49" fill="#32ff91"/>
<rect x="1017.32" y="294.70" width="35.55" height="11.49" fill="#16feb2"/>
<rect x="1052.87" y="294.70" width="35.55" height="11.49" fill="#32ff91"/>
<rect x="1088.42" y="294.70" width="35.55" height="11.49" fill="#16feb2"/>
<rect x="1123.98" y="294.70" width="106.66" height="11.49" fill="#0beecf"/>
<rect x="1230.64" y="294.70" width="35.55" height="11.49" fill="#16feb2"/>
<rect x="1266.19" y="294.70" width="35.55" height="11.49" fill="#11dce8"/>
<rect x="1301.74" y="294.70" width="35.55" height="11.49" fill="#23c2ff"/>
<rect x="1337.30" y="294.70" width="35.55" height="11.49" fill="#11dce8"/>
<rect x="1372.85" y="294.70" width="71.11" height="11.49" fill="#23c2ff"/>
<rect x="1443.95" y="294.70" width="71.11" height="11.49" fill="#37a6ff"/>
<rect x="1515.06" y="294.70" width="35.55" height="11.49" fill="#446df3"/>
<rect x="1550.61" y="294.70" width="35.55" height="11.49" fill="#37a6ff"/>
<rect x="1586.17" y="294.70" width="35.55" height="11.49" fill="#23c2ff"/>
<rect x="1621.72" y="294.70" width="35.55" height="11.49" fill="#4256d2"/>
<rect x="1657.27" y="293.34" width="35.55" height="11.56" fill="#4256d2"/>
<rect x="1692.83" y="294.70" width="35.55" height="11.49" fill="#ffffff"/>
<rect x="199.60" y="312.68" width="35.55" height="11.49" fill="#16feb2"/>
<rect x="235.15" y="312.68" width="35.55" height="11.49" fill="#11dce8"/>
<rect x="270.71" y="312.68" width="35.55" height="11.49" fill="#baff28"/>
<rect x="306.26" y="312.68" width="35.55" height="11.49" fill="#ff7712"/>
<rect x="341.81" y="312.68" width="35.55" height="11.49" fill="#baff28"/>
<rect x="377.37" y="312.68" width="35.55" height="11.49" fill="#90ff3f"/>
<rect x="412.92" y="312.68" width="35.55" height="11.49" fill="#16feb2"/>
<rect x="448.47" y="312.68" width="35.55" height="11.49" fill="#32ff91"/>
<rect x="484.02" y="312.68" width="35.55" height="11.49" fill="#0beecf"/>
<rect x="519.58" y="312.68" width="35.55" height="11.49" fill="#61ff65"/>
<rect x="555.13" y="312.68" width="35.55" height="11.49" fill="#11dce8"/>
<rect x="590.68" y="312.68" width="35.55" height="11.49" fill="#90ff3f"/>
<rect x="626.24" y="312.68" width="35.55" height="11.49" fill="#16feb2"/>
<rect x="661.79" y="312.68" width="35.55" height="11.49" fill="#61ff65"/>
<rect x="697.34" y="312.68" width="35.55" height="11.49" fill="#16feb2"/>
<rect x="732.89" y="312.68" width="35.55" height="11.49" fill="#0beecf"/>
<rect x="768.45" y="312.68" width="35.55" height="11.49" fill="#32ff91"/>
<rect x="804.00" y="312.68" width="35.55" height="11.49" fill="#16feb2"/>
<rect x="839.55" y="312.68" width="35.55" height="11.49" fill="#90ff3f"/>
<rect x="875.11" y="312.68" width="35.55" height="11.49" fill="#d7fb27"/>
<rect x="910.66" y="312.68" width="35.55" height="11.49" fill="#e96fe3"/>
<rect x="946.21" y="312.68" width="35.55" height="11.49" fill="#ffc32d"/>
<rect x="981.77" y="312.68" width="35.55" height="11.49" fill="#32ff91"/>
<rect x="1017.32" y="312.68" width="35.55" height="11.49" fill="#90ff3f"/>
<rect x="1052.87" y="312.68" width="35.55" height="11.49" fill="#61ff65"/>
<rect x="1088.42" y="312.68" width="35.55" height="11.49" fill="#32ff91"/>
<rect x="1123.98" y="312.68" width="35.55" height="11.49" fill="#90ff3f"/>
<rect x="1159.53" y="312.68" width="35.55" height="11.49" fill="#0beecf"/>
<rect x="1195.08" y="312.68" width="71.11" height="11.49" fill="#16feb2"/>
<rect x="1266.19" y="312.68" width="71.11" height="11.49" fill="#11dce8"/>
<rect x="1337.30" y="312.68" width="71.11" height="11.49" fill="#23c2ff"/>
<rect x="1408.40" y="312.68" width="71.11" height="11.49" fill="#37a6ff"/>
<rect x="1479.51" y="312.68" width="35.55" height="11.49" fill="#23c2ff"/>
<rect x="1515.06" y="312.68" width="106.66" height="11.49" fill="#446df3"/>
<rect x="1621.72" y="312.68" width="35.55" height="11.49" fill="#37a6ff"/>
<rect x="1657.27" y="311.43" width="35.55" height="11.56" fill="#37a6ff"/>
<rect x="1692.83" y="312.68" width="35.55" height="11.49" fill="#ffffff"/>
<rect x="199.60" y="330.66" width="35.55" height="11.49" fill="#0beecf"/>
<rect x="235.15" y="330.66" width="35.55" height="11.49" fill="#16feb2"/>
<rect x="270.71" y="330.66" width="35.55" height="11.49" fill="#61ff65"/>
<rect x="306.26" y="330.66" width="35.55" height="11.49" fill="#11dce8"/>
<rect x="341.81" y="330.66" width="35.55" height="11.49" fill="#0beecf"/>
<rect x="377.37" y="330.66" width="35.55" height="11.49" fill="#61ff65"/>
<rect x="412.92" y="330.66" width="35.55" height="11.49" fill="#16feb2"/>
<rect x="448.47" y="330.66" width="35.55" height="11.49" fill="#90ff3f"/>
<rect x="484.02" y="330.66" width="35.55" height="11.49" fill="#baff28"/>
<rect x="519.58" y="330.66" width="35.55" height="11.49" fill="#61ff65"/>
<rect x="555.13" y="330.66" width="71.11" height="11.49" fill="#32ff91"/>
<rect x="626.24" y="330.66" width="35.55" height="11.49" fill="#61ff65"/>
<rect x="661.79" y="330.66" width="35.55" height="11.49" fill="#efea2b"/>
<rect x="697.34" y="330.66" width="35.55" height="11.49" fill="#16feb2"/>
<rect x="732.89" y="330.66" width="35.55" height="11.49" fill="#11dce8"/>
<rect x="768.45" y="330.66" width="35.55" height="11.49" fill="#32ff91"/>
<rect x="804.00" y="330.66" width="35.55" height="11.49" fill="#16feb2"/>
<rect x="839.55" y="330.66" width="35.55" height="11.49" fill="#d7fb27"/>
<rect x="875.11" y="330.66" width="35.55" height="11.49" fill="#e96fe3"/>
<rect x="910.66" y="330.66" width="35.55" height="11.49" fill="#90ff3f"/>
<rect x="946.21" y="330.66" width="35.55" height="11.49" fill="#ffc32d"/>
<rect x="981.77" y="330.66" width="35.55" height="11.49" fill="#32ff91"/>
<rect x="1017.32" y="330.66" width="35.55" height="11.49" fill="#61ff65"/>
<rect x="1052.87" y="330.66" width="35.55" height="11.49" fill="#32ff91"/>
<rect x="1088.42" y="330.66" width="35.55" height="11.49" fill="#16feb2"/>
<rect x="1123.98" y="330.66" width="35.55" height="11.49" fill="#d7fb27"/>
<rect x="1159.53" y="330.66" width="35.55" height="11.49" fill="#0beecf"/>
<rect x="1195.08" y="330.66" width="35.55" height="11.49" fill="#11dce8"/>
<rect x="1230.64" y="330.66" width="35.55" height="11.49" fill="#0beecf"/>
<rect x="1266.19" y="330.66" width="35.55" height="11.49" fill="#11dce8"/>
<rect x="1301.74" y="330.66" width="142.21" height="11.49" fill="#23c2ff"/>
<rect x="1443.95" y="330.66" width="71.11" height="11.49" fill="#37a6ff"/>
<rect x="1515.06" y="330.66" width="71.11" height="11.49" fill="#446df3"/>
<rect x="1586.17" y="330.66" width="71.11" height="11.49" fill="#37a6ff"/>
<rect x="1657.27" y="329.52" width="35.55" height="11.56" fill="#37a6ff"/>
<rect x="1692.83" y="330.66" width="35.55" height="11.49" fill="#ffffff"/>
<rect x="199.60" y="348.64" width="35.55" height="11.49" fill="#32ff91"/>
<rect x="235.15" y="348.64" width="35.55" height="11.49" fill="#11dce8"/>
<rect x="270.71" y="348.64" width="35.55" height="11.49" fill="#efea2b"/>
<rect x="306.26" y="348.64" width="35.55" height="11.49" fill="#ffc32d"/>
<rect x="341.81" y="348.64" width="35.55" height="11.49" fill="#0beecf"/>
<rect x="377.37" y="348.64" width="35.55" height="11.49" fill="#61ff65"/>
<rect x="412.92" y="348.64" width="35.55" height="11.49" fill="#0beecf"/>
<rect x="448.47" y="348.64" width="35.55" height="11.49" fill="#16feb2"/>
<rect x="484.02" y="348.64" width="35.55" height="11.49" fill="#11dce8"/>
<rect x="519.58" y="348.64" width="35.55" height="11.49" fill="#32ff91"/>
<rect x="555.13" y="348.64" width="35.55" height="11.49" fill="#11dce8"/>
<rect x="590.68" y="348.64" width="35.55" height="11.49" fill="#90ff3f"/>
<rect x="626.24" y="348.64" width="35.55" height="11.49" fill="#16feb2"/>
<rect x="661.79" y="348.64" width="35.55" height="11.49" fill="#90ff3f"/>
<rect x="697.34" y="348.64" width="35.55" height="11.49" fill="#16feb2"/>
<rect x="732.89" y="348.64" width="35.55" height="11.49" fill="#0beecf"/>
<rect x="768.45" y="348.64" width="35.55" height="11.49" fill="#61ff65"/>
<rect x="804.00" y="348.64" width="35.55" height="11.49" fill="#16feb2"/>
<rect x="839.55" y="348.64" width="35.55" height="11.49" fill="#90ff3f"/>
<rect x="875.11" y="348.64" width="35.55" height="11.49" fill="#e96fe3"/>
<rect x="910.66" y="348.64" width="35.55" height="11.49" fill="#61ff65"/>
<rect x="946.21" y="348.64" width="35.55" height="11.49" fill="#e96fe3"/>
<rect x="981.77" y="348.64" width="35.55" height="11.49" fill="#32ff91"/>
<rect x="1017.32" y="348.64" width="35.55" height="11.49" fill="#61ff65"/>
<rect x="1052.87" y="348.64" width="35.55" height="11.49" fill="#d7fb27"/>
<rect x="1088.42" y="348.64" width="71.11" height="11.49" fill="#16feb2"/>
<rect x="1159.53" y="348.64" width="35.55" height="11.49" fill="#11dce8"/>
<rect x="1195.08" y="348.64" width="35.55" height="11.49" fill="#d7fb27"/>
<rect x="1230.64" y="348.64" width="35.55" height="11.49" fill="#16feb2"/>
<rect x="1266.19" y="348.64" width="35.55" height="11.49" fill="#11dce8"/>
<rect x="1301.74" y="348.64" width="71.11" height="11.49" fill="#23c2ff"/>
<rect x="1372.85" y="348.64" width="35.55" height="11.49" fill="#0beecf"/>
<rect x="1408.40" y="348.64" width="35.55" height="11.49" fill="#11dce8"/>
<rect x="1443.95" y="348.64" width="35.55" height="11.49" fill="#23c2ff"/>
<rect x="1479.51" y="348.64" width="177.76" height="11.49" fill="#37a6ff"/>
<rect x="1657.27" y="347.61" width="35.55" height="11.56" fill="#37a6ff"/>
<rect x="1692.83" y="348.64" width="35.55" height="11.49" fill="#ffffff"/>
<rect x="199.60" y="366.62" width="71.11" height="11.49" fill="#0beecf"/>
<rect x="270.71" y="366.62" width="71.11" height="11.49" fill="#16feb2"/>
<rect x="341.81" y="366.62" width="71.11" height="11.49" fill="#90ff3f"/>
<rect x="412.92" y="366.62" width="35.55" height="11.49" fill="#32ff91"/>
<rect x="448.47" y="366.62" width="35.55" height="11.49" fill="#efea2b"/>
<rect x="484.02" y="366.62" width="35.55" height="11.49" fill="#0beecf"/>
<rect x="519.58" y="366.62" width="35.55" height="11.49" fill="#61ff65"/>
<rect x="555.13" y="366.62" width="35.55" height="11.49" fill="#32ff91"/>
<rect x="590.68" y="366.62" width="35.55" height="11.49" fill="#90ff3f"/>
<rect x="626.24" y="366.62" width="35.55" height="11.49" fill="#32ff91"/>
<rect x="661.79" y="366.62" width="35.55" height="11.49" fill="#e96fe3"/>
<rect x="697.34" y="366.62" width="35.55" height="11.49" fill="#0beecf"/>
<rect x="732.89" y="366.62" width="35.55" height="11.49" fill="#11dce8"/>
<rect x="768.45" y="366.62" width="71.11" height="11.49" fill="#16feb2"/>
<rect x="839.55" y="366.62" width="35.55" height="11.49" fill="#90ff3f"/>
<rect x="875.11" y="366.62" width="35.55" height="11.49" fill="#ff7712"/>
<rect x="910.66" y="366.62" width="35.55" height="11.49" fill="#e96fe3"/>
<rect x="946.21" y="366.62" width="35.55" height="11.49" fill="#ffc32d"/>
<rect x="981.77" y="366.62" width="35.55" height="11.49" fill="#61ff65"/>
<rect x="1017.32" y="366.62" width="35.55" height="11.49" fill="#90ff3f"/>
<rect x="1052.87" y="366.62" width="35.55" height="11.49" fill="#61ff65"/>
<rect x="1088.42" y="366.62" width="35.55" height="11.49" fill="#32ff91"/>
<rect x="1123.98" y="366.62" width="35.55" height="11.49" fill="#90ff3f"/>
<rect x="1159.53" y="366.62" width="71.11" height="11.49" fill="#11dce8"/>
<rect x="1230.64" y="366.62" width="35.55" height="11.49" fill="#0beecf"/>
<rect x="1266.19" y="366.62" width="106.66" height="11.49" fill="#23c2ff"/>
<rect x="1372.85" y="366.62" width="35.55" height="11.49" fill="#11dce8"/>
<rect x="1408.40" y="366.62" width="35.55" height="11.49" fill="#37a6ff"/>
<rect x="1443.95" y="366.62" width="35.55" height="11.49" fill="#16feb2"/>
<rect x="1479.51" y="366.62" width="35.55" height="11.49" fill="#11dce8"/>
<rect x="1515.06" y="366.62" width="35.55" height="11.49" fill="#446df3"/>
<rect x="1550.61" y="366.62" width="35.55" height="11.49" fill="#4256d2"/>
<rect x="1586.17" y="366.62" width="35.55" height="11.49" fill="#11dce8"/>
<rect x="1621.72" y="366.62" width="35.55" height="11.49" fill="#446df3"/>
<rect x="1657.27" y="365.70" width="35.55" height="11.56" fill="#4256d2"/>
<rect x="1692.83" y="366.62" width="35.55" height="11.49" fill="#ffffff"/>
<rect x="199.60" y="384.60" width="35.55" height="11.49" fill="#90ff3f"/>
<rect x="235.15" y="384.60" width="35.55" height="11.49" fill="#ff951e"/>
<rect x="270.71" y="384.60" width="35.55" height="11.49" fill="#ff7712"/>
<rect x="306.26" y="384.60" width="35.55" height="11.49" fill="#446df3"/>
<rect x="341.81" y="384.60" width="71.11" height="11.49" fill="#61ff65"/>
<rect x="412.92" y="384.60" width="35.55" height="11.49" fill="#0beecf"/>
<rect x="448.47" y="384.60" width="35.55" height="11.49" fill="#3e3ea7"/>
<rect x="484.02" y="384.60" width="35.55" height="11.49" fill="#32ff91"/>
<rect x="519.58" y="384.60" width="35.55" height="11.49" fill="#0beecf"/>
<rect x="555.13" y="384.60" width="35.55" height="11.49" fill="#61ff65"/>
<rect x="590.68" y="384.60" width="35.55" height="11.49" fill="#11dce8"/>
<rect x="626.24" y="384.60" width="35.55" height="11.49" fill="#61ff65"/>
<rect x="661.79" y="384.60" width="71.11" height="11.49" fill="#32ff91"/>
<rect x="732.89" y="384.60" width="35.55" height="11.49" fill="#11dce8"/>
<rect x="768.45" y="384.60" width="35.55" height="11.49" fill="#16feb2"/>
<rect x="804.00" y="384.60" width="35.55" height="11.49" fill="#efea2b"/>
<rect x="839.55" y="384.60" width="35.55" height="11.49" fill="#61ff65"/>
<rect x="875.11" y="384.60" width="35.55" height="11.49" fill="#0beecf"/>
<rect x="910.66" y="384.60" width="35.55" height="11.49" fill="#32ff91"/>
<rect x="946.21" y="384.60" width="35.55" height="11.49" fill="#efea2b"/>
<rect x="981.77" y="384.60" width="35.55" height="11.49" fill="#ff7712"/>
<rect x="1017.32" y="384.60" width="35.55" height="11.49" fill="#16feb2"/>
<rect x="1052.87" y="384.60" width="35.55" height="11.49" fill="#32ff91"/>
<rect x="1088.42" y="384.60" width="35.55" height="11.49" fill="#16feb2"/>
<rect x="1123.98" y="384.60" width="35.55" height="11.49" fill="#0beecf"/>
<rect x="1159.53" y="384.60" width="71.11" height="11.49" fill="#16feb2"/>
<rect x="1230.64" y="384.60" width="35.55" height="11.49" fill="#0beecf"/>
<rect x="1266.19" y="384.60" width="106.66" height="11.49" fill="#11dce8"/>
<rect x="1372.85" y="384.60" width="35.55" height="11.49" fill="#23c2ff"/>
<rect x="1408.40" y="384.60" width="35.55" height="11.49" fill="#37a6ff"/>
<rect x="1443.95" y="384.60" width="142.21" height="11.49" fill="#446df3"/>
<rect x="1586.17" y="384.60" width="35.55" height="11.49" fill="#23c2ff"/>
<rect x="1621.72" y="384.60" width="35.55" height="11.49" fill="#37a6ff"/>
<rect x="1657.27" y="383.78" width="35.55" height="11.56" fill="#37a6ff"/>
<rect x="1692.83" y="384.60" width="35.55" height="11.49" fill="#ffffff"/>
<rect x="199.60" y="402.58" width="35.55" height="11.49" fill="#ffc32d"/>
<rect x="235.15" y="402.58" width="35.55" height="11.49" fill="#90ff3f"/>
<rect x="270.71" y="402.58" width="35.55" height="11.49" fill="#61ff65"/>
<rect x="306.26" y="402.58" width="35.55" height="11.49" fill="#0beecf"/>
<rect x="341.81" y="402.58" width="35.55" height="11.49" fill="#11dce8"/>
<rect x="377.37" y="402.58" width="35.55" height="11.49" fill="#23c2ff"/>
<rect x="412.92" y="402.58" width="35.55" height="11.49" fill="#11dce8"/>
<rect x="448.47" y="402.58" width="35.55" height="11.49" fill="#16feb2"/>
<rect x="484.02" y="402.58" width="35.55" height="11.49" fill="#0beecf"/>
<rect x="519.58" y="402.58" width="35.55" height="11.49" fill="#efea2b"/>
<rect x="555.13" y="402.58" width="71.11" height="11.49" fill="#16feb2"/>
<rect x="626.24" y="402.58" width="35.55" height="11.49" fill="#61ff65"/>
<rect x="661.79" y="402.58" width="35.55" height="11.49" fill="#11dce8"/>
<rect x="697.34" y="402.58" width="35.55" height="11.49" fill="#16feb2"/>
<rect x="732.89" y="402.58" width="35.55" height="11.49" fill="#baff28"/>
<rect x="768.45" y="402.58" width="35.55" height="11.49" fill="#0beecf"/>
<rect x="804.00" y="402.58" width="35.55" height="11.49" fill="#90ff3f"/>
<rect x="839.55" y="402.58" width="35.55" height="11.49" fill="#0beecf"/>
<rect x="875.11" y="402.58" width="35.55" height="11.49" fill="#16feb2"/>
<rect x="910.66" y="402.58" width="35.55" height="11.49" fill="#61ff65"/>
<rect x="946.21" y="402.58" width="71.11" height="11.49" fill="#11dce8"/>
<rect x="1017.32" y="402.58" width="35.55" height="11.49" fill="#0beecf"/>
<rect x="1052.87" y="402.58" width="71.11" height="11.49" fill="#61ff65"/>
<rect x="1123.98" y="402.58" width="71.11" height="11.49" fill="#0beecf"/>
<rect x="1195.08" y="402.58" width="71.11" height="11.49" fill="#16feb2"/>
<rect x="1266.19" y="402.58" width="35.55" height="11.49" fill="#32ff91"/>
<rect x="1301.74" y="402.58" width="35.55" height="11.49" fill="#11dce8"/>
<rect x="1337.30" y="402.58" width="35.55" height="11.49" fill="#23c2ff"/>
<rect x="1372.85" y="402.58" width="71.11" height="11.49" fill="#37a6ff"/>
<rect x="1443.95" y="402.58" width="35.55" height="11.49" fill="#23c2ff"/>
<rect x="1479.51" y="402.58" width="106.66" height="11.49" fill="#446df3"/>
<rect x="1586.17" y="402.58" width="35.55" height="11.49" fill="#37a6ff"/>
<rect x="1621.72" y="402.58" width="35.55" height="11.49" fill="#446df3"/>
<rect x="1657.27" y="401.87" width="35.55" height="11.56" fill="#4256d2"/>
<rect x="1692.83" y="402.58" width="35.55" height="11.49" fill="#ffffff"/>
<rect x="199.60" y="420.56" width="35.55" height="11.49" fill="#11dce8"/>
<rect x="235.15" y="420.56" width="35.55" height="11.49" fill="#fb4400"/>
<rect x="270.71" y="420.56" width="35.55" height="11.49" fill="#61ff65"/>
<rect x="306.26" y="420.56" width="106.66" height="11.49" fill="#16feb2"/>
<rect x="412.92" y="420.56" width="35.55" height="11.49" fill="#23c2ff"/>
<rect x="448.47" y="420.56" width="35.55" height="11.49" fill="#90ff3f"/>
<rect x="484.02" y="420.56" width="35.55" height="11.49" fill="#0beecf"/>
<rect x="519.58" y="420.56" width="35.55" height="11.49" fill="#16feb2"/>
<rect x="555.13" y="420.56" width="71.11" height="11.49" fill="#11dce8"/>
<rect x="626.24" y="420.56" width="35.55" height="11.49" fill="#23c2ff"/>
<rect x="661.79" y="420.56" width="71.11" height="11.49" fill="#0beecf"/>
<rect x="732.89" y="420.56" width="35.55" height="11.49" fill="#61ff65"/>
<rect x="768.45" y="420.56" width="35.55" height="11.49" fill="#11dce8"/>
<rect x="804.00" y="420.56" width="71.11" height="11.49" fill="#61ff65"/>
<rect x="875.11" y="420.56" width="35.55" height="11.49" fill="#23c2ff"/>
<rect x="910.66" y="420.56" width="71.11" height="11.49" fill="#37a6ff"/>
<rect x="981.77" y="420.56" width="71.11" height="11.49" fill="#11dce8"/>
<rect x="1052.87" y="420.56" width="35.55" height="11.49" fill="#37a6ff"/>
<rect x="1088.42" y="420.56" width="35.55" height="11.49" fill="#61ff65"/>
<rect x="1123.98" y="420.56" width="35.55" height="11.49" fill="#0beecf"/>
<rect x="1159.53" y="420.56" width="35.55" height="11.49" fill="#11dce8"/>
<rect x="1195.08" y="420.56" width="35.55" height="11.49" fill="#23c2ff"/>
<rect x="1230.64" y="420.56" width="35.55" height="11.49" fill="#16feb2"/>
<rect x="1266.19" y="420.56" width="35.55" height="11.49" fill="#11dce8"/>
<rect x="1301.74" y="420.56" width="35.55" height="11.49" fill="#16feb2"/>
<rect x="1337.30" y="420.56" width="35.55" height="11.49" fill="#446df3"/>
<rect x="1372.85" y="420.56" width="35.55" height="11.49" fill="#11dce8"/>
<rect x="1408.40" y="420.56" width="35.55" height="11.49" fill="#37a6ff"/>
<rect x="1443.95" y="420.56" width="35.55" height="11.49" fill="#446df3"/>
<rect x="1479.51" y="420.56" width="35.55" height="11.49" fill="#37a6ff"/>
<rect x="1515.06" y="420.56" width="71.11" height="11.49" fill="#446df3"/>
<rect x="1586.17" y="420.56" width="71.11" height="11.49" fill="#37a6ff"/>
<rect x="1657.27" y="419.96" width="35.55" height="11.56" fill="#37a6ff"/>
<rect x="1692.83" y="420.56" width="35.55" height="11.49" fill="#ffffff"/>
<rect x="199.60" y="438.54" width="35.55" height="11.49" fill="#23c2ff"/>
<rect x="235.15" y="438.54" width="35.55" height="11.49" fill="#16feb2"/>
<rect x="270.71" y="438.54" width="71.11" height="11.49" fill="#0beecf"/>
<rect x="341.81" y="438.54" width="35.55" height="11.49" fill="#16feb2"/>
<rect x="377.37" y="438.54" width="35.55" height="11.49" fill="#d7fb27"/>
<rect x="412.92" y="438.54" width="35.55" height="11.49" fill="#3e3ea7"/>
<rect x="448.47" y="438.54" width="71.11" height="11.49" fill="#16feb2"/>
<rect x="519.58" y="438.54" width="106.66" height="11.49" fill="#11dce8"/>
<rect x="626.24" y="438.54" width="35.55" height="11.49" fill="#0beecf"/>
<rect x="661.79" y="438.54" width="35.55" height="11.49" fill="#16feb2"/>
<rect x="697.34" y="438.54" width="35.55" height="11.49" fill="#23c2ff"/>
<rect x="732.89" y="438.54" width="35.55" height="11.49" fill="#11dce8"/>
<rect x="768.45" y="438.54" width="35.55" height="11.49" fill="#efea2b"/>
<rect x="804.00" y="438.54" width="35.55" height="11.49" fill="#ffc32d"/>
<rect x="839.55" y="438.54" width="35.55" height="11.49" fill="#16feb2"/>
<rect x="875.11" y="438.54" width="35.55" height="11.49" fill="#23c2ff"/>
<rect x="910.66" y="438.54" width="35.55" height="11.49" fill="#0beecf"/>
<rect x="946.21" y="438.54" width="35.55" height="11.49" fill="#61ff65"/>
<rect x="981.77" y="438.54" width="35.55" height="11.49" fill="#0beecf"/>
<rect x="1017.32" y="438.54" width="35.55" height="11.49" fill="#61ff65"/>
<rect x="1052.87" y="438.54" width="35.55" height="11.49" fill="#16feb2"/>
<rect x="1088.42" y="438.54" width="35.55" height="11.49" fill="#11dce8"/>
<rect x="1123.98" y="438.54" width="35.55" height="11.49" fill="#32ff91"/>
<rect x="1159.53" y="438.54" width="35.55" height="11.49" fill="#37a6ff"/>
<rect x="1195.08" y="438.54" width="35.55" height="11.49" fill="#23c2ff"/>
<rect x="1230.64" y="438.54" width="35.55" height="11.49" fill="#11dce8"/>
<rect x="1266.19" y="438.54" width="71.11" height="11.49" fill="#23c2ff"/>
<rect x="1337.30" y="438.54" width="71.11" height="11.49" fill="#37a6ff"/>
<rect x="1408.40" y="438.54" width="35.55" height="11.49" fill="#23c2ff"/>
<rect x="1443.95" y="438.54" width="35.55" height="11.49" fill="#446df3"/>
<rect x="1479.51" y="438.54" width="35.55" height="11.49" fill="#37a6ff"/>
<rect x="1515.06" y="438.54" width="35.55" height="11.49" fill="#4256d2"/>
<rect x="1550.61" y="438.54" width="35.55" height="11.49" fill="#11dce8"/>
<rect x="1586.17" y="438.54" width="35.55" height="11.49" fill="#446df3"/>
<rect x="1621.72" y="438.54" width="35.55" height="11.49" fill="#4256d2"/>
<rect x="1657.27" y="438.05" width="35.55" height="11.56" fill="#4256d2"/>
<rect x="1692.83" y="438.54" width="35.55" height="11.49" fill="#ffffff"/>
<rect x="199.60" y="456.52" width="35.55" height="11.49" fill="#32ff91"/>
<rect x="235.15" y="456.52" width="35.55" height="11.49" fill="#efea2b"/>
<rect x="270.71" y="456.52" width="35.55" height="11.49" fill="#11dce8"/>
<rect x="306.26" y="456.52" width="35.55" height="11.49" fill="#16feb2"/>
<rect x="341.81" y="456.52" width="35.55" height="11.49" fill="#11dce8"/>
<rect x="377.37" y="456.52" width="71.11" height="11.49" fill="#0beecf"/>
<rect x="448.47" y="456.52" width="35.55" height="11.49" fill="#23c2ff"/>
<rect x="484.02" y="456.52" width="35.55" height="11.49" fill="#efea2b"/>
<rect x="519.58" y="456.52" width="71.11" height="11.49" fill="#32ff91"/>
<rect x="590.68" y="456.52" width="35.55" height="11.49" fill="#ffc32d"/>
<rect x="626.24" y="456.52" width="35.55" height="11.49" fill="#efea2b"/>
<rect x="661.79" y="456.52" width="35.55" height="11.49" fill="#ff7712"/>
<rect x="697.34" y="456.52" width="35.55" height="11.49" fill="#61ff65"/>
<rect x="732.89" y="456.52" width="35.55" height="11.49" fill="#23c2ff"/>
<rect x="768.45" y="456.52" width="35.55" height="11.49" fill="#61ff65"/>
<rect x="804.00" y="456.52" width="71.11" height="11.49" fill="#11dce8"/>
<rect x="875.11" y="456.52" width="35.55" height="11.49" fill="#0beecf"/>
<rect x="910.66" y="456.52" width="35.55" height="11.49" fill="#11dce8"/>
<rect x="946.21" y="456.52" width="35.55" height="11.49" fill="#0beecf"/>
<rect x="981.77" y="456.52" width="35.55" height="11.49" fill="#16feb2"/>
<rect x="1017.32" y="456.52" width="35.55" height="11.49" fill="#90ff3f"/>
<rect x="1052.87" y="456.52" width="35.55" height="11.49" fill="#0beecf"/>
<rect x="1088.42" y="456.52" width="35.55" height="11.49" fill="#16feb2"/>
<rect x="1123.98" y="456.52" width="35.55" height="11.49" fill="#61ff65"/>
<rect x="1159.53" y="456.52" width="35.55" height="11.49" fill="#efea2b"/>
<rect x="1195.08" y="456.52" width="71.11" height="11.49" fill="#0beecf"/>
<rect x="1266.19" y="456.52" width="35.55" height="11.49" fill="#23c2ff"/>
<rect x="1301.74" y="456.52" width="35.55" height="11.49" fill="#446df3"/>
<rect x="1337.30" y="456.52" width="35.55" height="11.49" fill="#23c2ff"/>
<rect x="1372.85" y="456.52" width="35.55" height="11.49" fill="#37a6ff"/>
<rect x="1408.40" y="456.52" width="35.55" height="11.49" fill="#23c2ff"/>
<rect x="1443.95" y="456.52" width="35.55" height="11.49" fill="#37a6ff"/>
<rect x="1479.51" y="456.52" width="71.11" height="11.49" fill="#446df3"/>
<rect x="1550.61" y="456.52" width="35.55" height="11.49" fill="#4256d2"/>
<rect x="1586.17" y="456.52" width="35.55" height="11.49" fill="#446df3"/>
<rect x="1621.72" y="456.52" width="35.55" height="11.49" fill="#37a6ff"/>
<rect x="1657.27" y="456.13" width="35.55" height="11.56" fill="#37a6ff"/>
<rect x="1692.83" y="456.52" width="35.55" height="11.49" fill="#ffffff"/>
<rect x="199.60" y="474.50" width="35.55" height="11.49" fill="#61ff65"/>
<rect x="235.15" y="474.50" width="35.55" height="11.49" fill="#16feb2"/>
<rect x="270.71" y="474.50" width="35.55" height="11.49" fill="#11dce8"/>
<rect x="306.26" y="474.50" width="35.55" height="11.49" fill="#37a6ff"/>
<rect x="341.81" y="474.50" width="35.55" height="11.49" fill="#baff28"/>
<rect x="377.37" y="474.50" width="35.55" height="11.49" fill="#11dce8"/>
<rect x="412.92" y="474.50" width="106.66" height="11.49" fill="#16feb2"/>
<rect x="519.58" y="474.50" width="35.55" height="11.49" fill="#0beecf"/>
<rect x="555.13" y="474.50" width="71.11" height="11.49" fill="#90ff3f"/>
<rect x="626.24" y="474.50" width="35.55" height="11.49" fill="#32ff91"/>
<rect x="661.79" y="474.50" width="35.55" height="11.49" fill="#61ff65"/>
<rect x="697.34" y="474.50" width="35.55" height="11.49" fill="#90ff3f"/>
<rect x="732.89" y="474.50" width="35.55" height="11.49" fill="#d7fb27"/>
<rect x="768.45" y="474.50" width="35.55" height="11.49" fill="#0beecf"/>
<rect x="804.00" y="474.50" width="35.55" height="11.49" fill="#16feb2"/>
<rect x="839.55" y="474.50" width="71.11" height="11.49" fill="#61ff65"/>
<rect x="910.66" y="474.50" width="35.55" height="11.49" fill="#ffc32d"/>
<rect x="946.21" y="474.50" width="35.55" height="11.49" fill="#61ff65"/>
<rect x="981.77" y="474.50" width="35.55" height="11.49" fill="#23c2ff"/>
<rect x="1017.32" y="474.50" width="35.55" height="11.49" fill="#11dce8"/>
<rect x="1052.87" y="474.50" width="35.55" height="11.49" fill="#0beecf"/>
<rect x="1088.42" y="474.50" width="106.66" height="11.49" fill="#11dce8"/>
<rect x="1195.08" y="474.50" width="35.55" height="11.49" fill="#61ff65"/>
<rect x="1230.64" y="474.50" width="35.55" height="11.49" fill="#11dce8"/>
<rect x="1266.19" y="474.50" width="35.55" height="11.49" fill="#23c2ff"/>
<rect x="1301.74" y="474.50" width="142.21" height="11.49" fill="#37a6ff"/>
<rect x="1443.95" y="474.50" width="35.55" height="11.49" fill="#446df3"/>
<rect x="1479.51" y="474.50" width="71.11" height="11.49" fill="#37a6ff"/>
<rect x="1550.61" y="474.50" width="35.55" height="11.49" fill="#446df3"/>
<rect x="1586.17" y="474.50" width="71.11" height="11.49" fill="#4256d2"/>
<rect x="1657.27" y="474.22" width="35.55" height="11.56" fill="#4256d2"/>
<rect x="1692.83" y="474.50" width="35.55" height="11.49" fill="#ffffff"/>
<rect x="199.60" y="492.48" width="35.55" height="11.49" fill="#90ff3f"/>
<rect x="235.15" y="492.48" width="35.55" height="11.49" fill="#37a6ff"/>
<rect x="270.71" y="492.48" width="35.55" height="11.49" fill="#0beecf"/>
<rect x="306.26" y="492.48" width="35.55" height="11.49" fill="#11dce8"/>
<rect x="341.81" y="492.48" width="35.55" height="11.49" fill="#61ff65"/>
<rect x="377.37" y="492.48" width="71.11" height="11.49" fill="#11dce8"/>
<rect x="448.47" y="492.48" width="71.11" height="11.49" fill="#0beecf"/>
<rect x="519.58" y="492.48" width="35.55" height="11.49" fill="#23c2ff"/>
<rect x="555.13" y="492.48" width="35.55" height="11.49" fill="#11dce8"/>
<rect x="590.68" y="492.48" width="35.55" height="11.49" fill="#16feb2"/>
<rect x="626.24" y="492.48" width="35.55" height="11.49" fill="#23c2ff"/>
<rect x="661.79" y="492.48" width="35.55" height="11.49" fill="#61ff65"/>
<rect x="697.34" y="492.48" width="35.55" height="11.49" fill="#0beecf"/>
<rect x="732.89" y="492.48" width="35.55" height="11.49" fill="#11dce8"/>
<rect x="768.45" y="492.48" width="35.55" height="11.49" fill="#0beecf"/>
<rect x="804.00" y="492.48" width="35.55" height="11.49" fill="#11dce8"/>
<rect x="839.55" y="492.48" width="35.55" height="11.49" fill="#0beecf"/>
<rect x="875.11" y="492.48" width="35.55" height="11.49" fill="#16feb2"/>
<rect x="910.66" y="492.48" width="35.55" height="11.49" fill="#d7fb27"/>
<rect x="946.21" y="492.48" width="35.55" height="11.49" fill="#16feb2"/>
<rect x="981.77" y="492.48" width="35.55" height="11.49" fill="#23c2ff"/>
<rect x="1017.32" y="492.48" width="35.55" height="11.49" fill="#0beecf"/>
<rect x="1052.87" y="492.48" width="35.55" height="11.49" fill="#11dce8"/>
<rect x="1088.42" y="492.48" width="35.55" height="11.49" fill="#0beecf"/>
<rect x="1123.98" y="492.48" width="35.55" height="11.49" fill="#baff28"/>
<rect x="1159.53" y="492.48" width="71.11" height="11.49" fill="#0beecf"/>
<rect x="1230.64" y="492.48" width="35.55" height="11.49" fill="#37a6ff"/>
<rect x="1266.19" y="492.48" width="35.55" height="11.49" fill="#23c2ff"/>
<rect x="1301.74" y="492.48" width="35.55" height="11.49" fill="#11dce8"/>
<rect x="1337.30" y="492.48" width="35.55" height="11.49" fill="#23c2ff"/>
<rect x="1372.85" y="492.48" width="106.66" height="11.49" fill="#37a6ff"/>
<rect x="1479.51" y="492.48" width="35.55" height="11.49" fill="#446df3"/>
<rect x="1515.06" y="492.48" width="71.11" height="11.49" fill="#37a6ff"/>
<rect x="1586.17" y="492.48" width="35.55" height="11.49" fill="#11dce8"/>
<rect x="1621.72" y="492.48" width="35.55" height="11.49" fill="#23c2ff"/>
<rect x="1657.27" y="492.31" width="35.55" height="11.56" fill="#23c2ff"/>
<rect x="1692.83" y="492.48" width="35.55" height="11.49" fill="#ffffff"/>
<rect x="199.60" y="510.46" width="35.55" height="11.49" fill="#ffc32d"/>
<rect x="235.15" y="510.46" width="35.55" height="11.49" fill="#11dce8"/>
<rect x="270.71" y="510.46" width="35.55" height="11.49" fill="#0beecf"/>
<rect x="306.26" y="510.46" width="35.55" height="11.49" fill="#baff28"/>
<rect x="341.81" y="510.46" width="71.11" height="11.49" fill="#90ff3f"/>
<rect x="412.92" y="510.46" width="35.55" height="11.49" fill="#23c2ff"/>
<rect x="448.47" y="510.46" width="35.55" height="11.49" fill="#61ff65"/>
<rect x="484.02" y="510.46" width="35.55" height="11.49" fill="#16feb2"/>
<rect x="519.58" y="510.46" width="35.55" height="11.49" fill="#23c2ff"/>
<rect x="555.13" y="510.46" width="35.55" height="11.49" fill="#11dce8"/>
<rect x="590.68" y="510.46" width="35.55" height="11.49" fill="#d7fb27"/>
<rect x="626.24" y="510.46" width="35.55" height="11.49" fill="#16feb2"/>
<rect x="661.79" y="510.46" width="35.55" height="11.49" fill="#23c2ff"/>
<rect x="697.34" y="510.46" width="35.55" height="11.49" fill="#32ff91"/>
<rect x="732.89" y="510.46" width="35.55" height="11.49" fill="#61ff65"/>
<rect x="768.45" y="510.46" width="35.55" height="11.49" fill="#11dce8"/>
<rect x="804.00" y="510.46" width="35.55" height="11.49" fill="#16feb2"/>
<rect x="839.55" y="510.46" width="35.55" height="11.49" fill="#11dce8"/>
<rect x="875.11" y="510.46" width="71.11" height="11.49" fill="#0beecf"/>
<rect x="946.21" y="510.46" width="35.55" height="11.49" fill="#16feb2"/>
<rect x="981.77" y="510.46" width="35.55" height="11.49" fill="#11dce8"/>
<rect x="1017.32" y="510.46" width="35.55" height="11.49" fill="#61ff65"/>
<rect x="1052.87" y="510.46" width="35.55" height="11.49" fill="#0beecf"/>
<rect x="1088.42" y="510.46" width="35.55" height="11.49" fill="#32ff91"/>
<rect x="1123.98" y="510.46" width="106.66" height="11.49" fill="#11dce8"/>
<rect x="1230.64" y="510.46" width="35.55" height="11.49" fill="#37a6ff"/>
<rect x="1266.19" y="510.46" width="35.55" height="11.49" fill="#61ff65"/>
<rect x="1301.74" y="510.46" width="35.55" height="11.49" fill="#23c2ff"/>
<rect x="1337.30" y="510.46" width="106.66" height="11.49" fill="#37a6ff"/>
<rect x="1443.95" y="510.46" width="35.55" height="11.49" fill="#23c2ff"/>
<rect x="1479.51" y="510.46" width="35.55" height="11.49" fill="#37a6ff"/>
<rect x="1515.06" y="510.46" width="71.11" height="11.49" fill="#446df3"/>
<rect x="1586.17" y="510.46" width="35.55" height="11.49" fill="#e96fe3"/>
<rect x="1621.72" y="510.46" width="35.55" height="11.49" fill="#16feb2"/>
<rect x="1657.27" y="510.40" width="35.55" height="11.56" fill="#16feb2"/>
<rect x="1692.83" y="510.46" width="35.55" height="11.49" fill="#ffffff"/>
<rect x="199.60" y="528.44" width="35.55" height="11.49" fill="#0beecf"/>
<rect x="235.15" y="528.44" width="35.55" height="11.49" fill="#23c2ff"/>
<rect x="270.71" y="528.44" width="35.55" height="11.49" fill="#0beecf"/>
<rect x="306.26" y="528.44" width="71.11" height="11.49" fill="#32ff91"/>
<rect x="377.37" y="528.44" width="35.55" height="11.49" fill="#efea2b"/>
<rect x="412.92" y="528.44" width="35.55" height="11.49" fill="#11dce8"/>
<rect x="448.47" y="528.44" width="35.55" height="11.49" fill="#90ff3f"/>
<rect x="484.02" y="528.44" width="35.55" height="11.49" fill="#fb4400"/>
<rect x="519.58" y="528.44" width="35.55" height="11.49" fill="#32ff91"/>
<rect x="555.13" y="528.44" width="35.55" height="11.49" fill="#0beecf"/>
<rect x="590.68" y="528.44" width="35.55" height="11.49" fill="#d7fb27"/>
<rect x="626.24" y="528.44" width="35.55" height="11.49" fill="#11dce8"/>
<rect x="661.79" y="528.44" width="35.55" height="11.49" fill="#16feb2"/>
<rect x="697.34" y="528.44" width="35.55" height="11.49" fill="#efea2b"/>
<rect x="732.89" y="528.44" width="35.55" height="11.49" fill="#baff28"/>
<rect x="768.45" y="528.44" width="35.55" height="11.49" fill="#16feb2"/>
<rect x="804.00" y="528.44" width="142.21" height="11.49" fill="#32ff91"/>
<rect x="946.21" y="528.44" width="35.55" height="11.49" fill="#16feb2"/>
<rect x="981.77" y="528.44" width="35.55" height="11.49" fill="#0beecf"/>
<rect x="1017.32" y="528.44" width="71.11" height="11.49" fill="#11dce8"/>
<rect x="1088.42" y="528.44" width="35.55" height="11.49" fill="#23c2ff"/>
<rect x="1123.98" y="528.44" width="106.66" height="11.49" fill="#11dce8"/>
<rect x="1230.64" y="528.44" width="35.55" height="11.49" fill="#0beecf"/>
<rect x="1266.19" y="528.44" width="35.55" height="11.49" fill="#23c2ff"/>
<rect x="1301.74" y="528.44" width="35.55" height="11.49" fill="#11dce8"/>
<rect x="1337.30" y="528.44" width="35.55" height="11.49" fill="#16feb2"/>
<rect x="1372.85" y="528.44" width="106.66" height="11.49" fill="#37a6ff"/>
<rect x="1479.51" y="528.44" width="71.11" height="11.49" fill="#446df3"/>
<rect x="1550.61" y="528.44" width="35.55" height="11.49" fill="#4256d2"/>
<rect x="1586.17" y="528.44" width="35.55" height="11.49" fill="#446df3"/>
<rect x="1621.72" y="528.44" width="35.55" height="11.49" fill="#11dce8"/>
<rect x="1657.27" y="528.49" width="35.55" height="11.56" fill="#11dce8"/>
<rect x="1692.83" y="528.44" width="35.55" height="11.49" fill="#ffffff"/>
<rect x="199.60" y="546.42" width="35.55" height="11.49" fill="#32ff91"/>
<rect x="235.15" y="546.42" width="35.55" height="11.49" fill="#23c2ff"/>
<rect x="270.71" y="546.42" width="35.55" height="11.49" fill="#16feb2"/>
<rect x="306.26" y="546.42" width="71.11" height="11.49" fill="#0beecf"/>
<rect x="377.37" y="546.42" width="35.55" height="11.49" fill="#11dce8"/>
<rect x="412.92" y="546.42" width="35.55" height="11.49" fill="#23c2ff"/>
<rect x="448.47" y="546.42" width="35.55" height="11.49" fill="#0beecf"/>
<rect x="484.02" y="546.42" width="35.55" height="11.49" fill="#11dce8"/>
<rect x="519.58" y="546.42" width="35.55" height="11.49" fill="#2f1240"/>
<rect x="555.13" y="546.42" width="35.55" height="11.49" fill="#61ff65"/>
<rect x="590.68" y="546.42" width="35.55" height="11.49" fill="#11dce8"/>
<rect x="626.24" y="546.42" width="35.55" height="11.49" fill="#d7fb27"/>
<rect x="661.79" y="546.42" width="35.55" height="11.49" fill="#0beecf"/>
<rect x="697.34" y="546.42" width="35.55" height="11.49" fill="#baff28"/>
<rect x="732.89" y="546.42" width="35.55" height="11.49" fill="#11dce8"/>
<rect x="768.45" y="546.42" width="35.55" height="11.49" fill="#61ff65"/>
<rect x="804.00" y="546.42" width="35.55" height="11.49" fill="#ffc32d"/>
<rect x="839.55" y="546.42" width="35.55" height="11.49" fill="#90ff3f"/>
<rect x="875.11" y="546.42" width="35.55" height="11.49" fill="#61ff65"/>
<rect x="910.66" y="546.42" width="35.55" height="11.49" fill="#0beecf"/>
<rect x="946.21" y="546.42" width="35.55" height="11.49" fill="#16feb2"/>
<rect x="981.77" y="546.42" width="35.55" height="11.49" fill="#d7fb27"/>
<rect x="1017.32" y="546.42" width="35.55" height="11.49" fill="#0beecf"/>
<rect x="1052.87" y="546.42" width="35.55" height="11.49" fill="#11dce8"/>
<rect x="1088.42" y="546.42" width="35.55" height="11.49" fill="#61ff65"/>
<rect x="1123.98" y="546.42" width="35.55" height="11.49" fill="#16feb2"/>
<rect x="1159.53" y="546.42" width="35.55" height="11.49" fill="#0beecf"/>
<rect x="1195.08" y="546.42" width="177.76" height="11.49" fill="#11dce8"/>
<rect x="1372.85" y="546.42" width="35.55" height="11.49" fill="#0beecf"/>
<rect x="1408.40" y="546.42" width="35.55" height="11.49" fill="#37a6ff"/>
<rect x="1443.95" y="546.42" width="35.55" height="11.49" fill="#23c2ff"/>
<rect x="1479.51" y="546.42" width="106.66" height="11.49" fill="#37a6ff"/>
<rect x="1586.17" y="546.42" width="71.11" height="11.49" fill="#446df3"/>
<rect x="1657.27" y="546.57" width="35.55" height="11.56" fill="#446df3"/>
<rect x="1692.83" y="546.42" width="35.55" height="11.49" fill="#ffffff"/>
<rect x="199.60" y="564.40" width="35.55" height="11.49" fill="#16feb2"/>
<rect x="235.15" y="564.40" width="35.55" height="11.49" fill="#11dce8"/>
<rect x="270.71" y="564.40" width="35.55" height="11.49" fill="#efea2b"/>
<rect x="306.26" y="564.40" width="35.55" height="11.49" fill="#d7fb27"/>
<rect x="341.81" y="564.40" width="35.55" height="11.49" fill="#0beecf"/>
<rect x="377.37" y="564.40" width="35.55" height="11.49" fill="#61ff65"/>
<rect x="412.92" y="564.40" width="35.55" height="11.49" fill="#ff951e"/>
<rect x="448.47" y="564.40" width="71.11" height="11.49" fill="#16feb2"/>
<rect x="519.58" y="564.40" width="71.11" height="11.49" fill="#61ff65"/>
<rect x="590.68" y="564.40" width="35.55" height="11.49" fill="#0beecf"/>
<rect x="626.24" y="564.40" width="35.55" height="11.49" fill="#11dce8"/>
<rect x="661.79" y="564.40" width="35.55" height="11.49" fill="#0beecf"/>
<rect x="697.34" y="564.40" width="35.55" height="11.49" fill="#16feb2"/>
<rect x="732.89" y="564.40" width="35.55" height="11.49" fill="#11dce8"/>
<rect x="768.45" y="564.40" width="35.55" height="11.49" fill="#d7fb27"/>
<rect x="804.00" y="564.40" width="35.55" height="11.49" fill="#16feb2"/>
<rect x="839.55" y="564.40" width="35.55" height="11.49" fill="#32ff91"/>
<rect x="875.11" y="564.40" width="35.55" height="11.49" fill="#0beecf"/>
<rect x="910.66" y="564.40" width="35.55" height="11.49" fill="#ffc32d"/>
<rect x="946.21" y="564.40" width="35.55" height="11.49" fill="#32ff91"/>
<rect x="981.77" y="564.40" width="35.55" height="11.49" fill="#11dce8"/>
<rect x="1017.32" y="564.40" width="35.55" height="11.49" fill="#90ff3f"/>
<rect x="1052.87" y="564.40" width="35.55" height="11.49" fill="#61ff65"/>
<rect x="1088.42" y="564.40" width="35.55" height="11.49" fill="#32ff91"/>
<rect x="1123.98" y="564.40" width="35.55" height="11.49" fill="#baff28"/>
<rect x="1159.53" y="564.40" width="35.55" height="11.49" fill="#32ff91"/>
<rect x="1195.08" y="564.40" width="35.55" height="11.49" fill="#23c2ff"/>
<rect x="1230.64" y="564.40" width="35.55" height="11.49" fill="#11dce8"/>
<rect x="1266.19" y="564.40" width="71.11" height="11.49" fill="#16feb2"/>
<rect x="1337.30" y="564.40" width="71.11" height="11.49" fill="#11dce8"/>
<rect x="1408.40" y="564.40" width="71.11" height="11.49" fill="#37a6ff"/>
<rect x="1479.51" y="564.40" width="142.21" height="11.49" fill="#446df3"/>
<rect x="1621.72" y="564.40" width="35.55" height="11.49" fill="#4256d2"/>
<rect x="1657.27" y="564.66" width="35.55" height="11.56" fill="#4256d2"/>
<rect x="1692.83" y="564.40" width="35.55" height="11.49" fill="#ffffff"/>
<rect x="199.60" y="582.38" width="35.55" height="11.49" fill="#16feb2"/>
<rect x="235.15" y="582.38" width="35.55" height="11.49" fill="#32ff91"/>
<rect x="270.71" y="582.38" width="35.55" height="11.49" fill="#e96fe3"/>
<rect x="306.26" y="582.38" width="71.11" height="11.49" fill="#16feb2"/>
<rect x="377.37" y="582.38" width="35.55" height="11.49" fill="#11dce8"/>
<rect x="412.92" y="582.38" width="35.55" height="11.49" fill="#16feb2"/>
<rect x="448.47" y="582.38" width="71.11" height="11.49" fill="#0beecf"/>
<rect x="519.58" y="582.38" width="35.55" height="11.49" fill="#ff7712"/>
<rect x="555.13" y="582.38" width="35.55" height="11.49" fill="#90ff3f"/>
<rect x="590.68" y="582.38" width="35.55" height="11.49" fill="#32ff91"/>
<rect x="626.24" y="582.38" width="35.55" height="11.49" fill="#efea2b"/>
<rect x="661.79" y="582.38" width="35.55" height="11.49" fill="#23c2ff"/>
<rect x="697.34" y="582.38" width="35.55" height="11.49" fill="#16feb2"/>
<rect x="732.89" y="582.38" width="35.55" height="11.49" fill="#90ff3f"/>
<rect x="768.45" y="582.38" width="35.55" height="11.49" fill="#32ff91"/>
<rect x="804.00" y="582.38" width="35.55" height="11.49" fill="#90ff3f"/>
<rect x="839.55" y="582.38" width="35.55" height="11.49" fill="#61ff65"/>
<rect x="875.11" y="582.38" width="35.55" height="11.49" fill="#0beecf"/>
<rect x="910.66" y="582.38" width="35.55" height="11.49" fill="#32ff91"/>
<rect x="946.21" y="582.38" width="35.55" height="11.49" fill="#16feb2"/>
<rect x="981.77" y="582.38" width="71.11" height="11.49" fill="#61ff65"/>
<rect x="1052.87" y="582.38" width="71.11" height="11.49" fill="#16feb2"/>
<rect x="1123.98" y="582.38" width="71.11" height="11.49" fill="#32ff91"/>
<rect x="1195.08" y="582.38" width="35.55" height="11.49" fill="#23c2ff"/>
<rect x="1230.64" y="582.38" width="35.55" height="11.49" fill="#0beecf"/>
<rect x="1266.19" y="582.38" width="35.55" height="11.49" fill="#11dce8"/>
<rect x="1301.74" y="582.38" width="35.55" height="11.49" fill="#0beecf"/>
<rect x="1337.30" y="582.38" width="71.11" height="11.49" fill="#23c2ff"/>
<rect x="1408.40" y="582.38" width="106.66" height="11.49" fill="#37a6ff"/>
<rect x="1515.06" y="582.38" width="35.55" height="11.49" fill="#446df3"/>
<rect x="1550.61" y="582.38" width="71.11" height="11.49" fill="#37a6ff"/>
<rect x="1621.72" y="582.38" width="35.55" height="11.49" fill="#4256d2"/>
<rect x="1657.27" y="582.75" width="35.55" height="11.56" fill="#4256d2"/>
<rect x="1692.83" y="582.38" width="35.55" height="11.49" fill="#ffffff"/>
<rect x="199.60" y="600.36" width="35.55" height="11.49" fill="#ff7712"/>
<rect x="235.15" y="600.36" width="35.55" height="11.49" fill="#11dce8"/>
<rect x="270.71" y="600.36" width="35.55" height="11.49" fill="#61ff65"/>
<rect x="306.26" y="600.36" width="106.66" height="11.49" fill="#0beecf"/>
<rect x="412.92" y="600.36" width="35.55" height="11.49" fill="#61ff65"/>
<rect x="448.47" y="600.36" width="71.11" height="11.49" fill="#16feb2"/>
<rect x="519.58" y="600.36" width="35.55" height="11.49" fill="#baff28"/>
<rect x="555.13" y="600.36" width="35.55" height="11.49" fill="#11dce8"/>
<rect x="590.68" y="600.36" width="35.55" height="11.49" fill="#32ff91"/>
<rect x="626.24" y="600.36" width="35.55" height="11.49" fill="#16feb2"/>
<rect x="661.79" y="600.36" width="35.55" height="11.49" fill="#0beecf"/>
<rect x="697.34" y="600.36" width="35.55" height="11.49" fill="#11dce8"/>
<rect x="732.89" y="600.36" width="71.11" height="11.49" fill="#e96fe3"/>
<rect x="804.00" y="600.36" width="35.55" height="11.49" fill="#0beecf"/>
<rect x="839.55" y="600.36" width="35.55" height="11.49" fill="#16feb2"/>
<rect x="875.11" y="600.36" width="71.11" height="11.49" fill="#d7fb27"/>
<rect x="946.21" y="600.36" width="35.55" height="11.49" fill="#16feb2"/>
<rect x="981.77" y="600.36" width="35.55" height="11.49" fill="#baff28"/>
<rect x="1017.32" y="600.36" width="35.55" height="11.49" fill="#32ff91"/>
<rect x="1052.87" y="600.36" width="71.11" height="11.49" fill="#16feb2"/>
<rect x="1123.98" y="600.36" width="35.55" height="11.49" fill="#32ff91"/>
<rect x="1159.53" y="600.36" width="71.11" height="11.49" fill="#23c2ff"/>
<rect x="1230.64" y="600.36" width="106.66" height="11.49" fill="#11dce8"/>
<rect x="1337.30" y="600.36" width="35.55" height="11.49" fill="#37a6ff"/>
<rect x="1372.85" y="600.36" width="35.55" height="11.49" fill="#11dce8"/>
<rect x="1408.40" y="600.36" width="35.55" height="11.49" fill="#37a6ff"/>
<rect x="1443.95" y="600.36" width="35.55" height="11.49" fill="#23c2ff"/>
<rect x="1479.51" y="600.36" width="35.55" height="11.49" fill="#37a6ff"/>
<rect x="1515.06" y="600.36" width="35.55" height="11.49" fill="#446df3"/>
<rect x="1550.61" y="600.36" width="71.11" height="11.49" fill="#37a6ff"/>
<rect x="1621.72" y="600.36" width="35.55" height="11.49" fill="#4256d2"/>
<rect x="1657.27" y="600.84" width="35.55" height="11.56" fill="#4256d2"/>
<rect x="1692.83" y="600.36" width="35.55" height="11.49" fill="#ffffff"/>
<rect x="199.60" y="618.34" width="35.55" height="11.49" fill="#11dce8"/>
<rect x="235.15" y="618.34" width="35.55" height="11.49" fill="#32ff91"/>
<rect x="270.71" y="618.34" width="35.55" height="11.49" fill="#61ff65"/>
<rect x="306.26" y="618.34" width="35.55" height="11.49" fill="#11dce8"/>
<rect x="341.81" y="618.34" width="35.55" height="11.49" fill="#32ff91"/>
<rect x="377.37" y="618.34" width="35.55" height="11.49" fill="#61ff65"/>
<rect x="412.92" y="618.34" width="35.55" height="11.49" fill="#16feb2"/>
<rect x="448.47" y="618.34" width="35.55" height="11.49" fill="#32ff91"/>
<rect x="484.02" y="618.34" width="35.55" height="11.49" fill="#61ff65"/>
<rect x="519.58" y="618.34" width="71.11" height="11.49" fill="#16feb2"/>
<rect x="590.68" y="618.34" width="35.55" height="11.49" fill="#32ff91"/>
<rect x="626.24" y="618.34" width="35.55" height="11.49" fill="#90ff3f"/>
<rect x="661.79" y="618.34" width="35.55" height="11.49" fill="#ffc32d"/>
<rect x="697.34" y="618.34" width="35.55" height="11.49" fill="#61ff65"/>
<rect x="732.89" y="618.34" width="35.55" height="11.49" fill="#23c2ff"/>
<rect x="768.45" y="618.34" width="35.55" height="11.49" fill="#16feb2"/>
<rect x="804.00" y="618.34" width="35.55" height="11.49" fill="#32ff91"/>
<rect x="839.55" y="618.34" width="35.55" height="11.49" fill="#baff28"/>
<rect x="875.11" y="618.34" width="35.55" height="11.49" fill="#e96fe3"/>
<rect x="910.66" y="618.34" width="35.55" height="11.49" fill="#61ff65"/>
<rect x="946.21" y="618.34" width="71.11" height="11.49" fill="#d7fb27"/>
<rect x="1017.32" y="618.34" width="35.55" height="11.49" fill="#baff28"/>
<rect x="1052.87" y="618.34" width="35.55" height="11.49" fill="#16feb2"/>
<rect x="1088.42" y="618.34" width="35.55" height="11.49" fill="#61ff65"/>
<rect x="1123.98" y="618.34" width="35.55" height="11.49" fill="#90ff3f"/>
<rect x="1159.53" y="618.34" width="71.11" height="11.49" fill="#0beecf"/>
<rect x="1230.64" y="618.34" width="106.66" height="11.49" fill="#11dce8"/>
<rect x="1337.30" y="618.34" width="35.55" height="11.49" fill="#23c2ff"/>
<rect x="1372.85" y="618.34" width="35.55" height="11.49" fill="#11dce8"/>
<rect x="1408.40" y="618.34" width="35.55" height="11.49" fill="#16feb2"/>
<rect x="1443.95" y="618.34" width="71.11" height="11.49" fill="#23c2ff"/>
<rect x="1515.06" y="618.34" width="71.11" height="11.49" fill="#446df3"/>
<rect x="1586.17" y="618.34" width="35.55" height="11.49" fill="#23c2ff"/>
<rect x="1621.72" y="618.34" width="35.55" height="11.49" fill="#446df3"/>
<rect x="1657.27" y="618.93" width="35.55" height="11.56" fill="#446df3"/>
<rect x="1692.83" y="618.34" width="35.55" height="11.49" fill="#ffffff"/>
<rect x="199.60" y="636.32" width="35.55" height="11.49" fill="#90ff3f"/>
<rect x="235.15" y="636.32" width="35.55" height="11.49" fill="#0beecf"/>
<rect x="270.71" y="636.32" width="35.55" height="11.49" fill="#ffc32d"/>
<rect x="306.26" y="636.32" width="35.55" height="11.49" fill="#d7fb27"/>
<rect x="341.81" y="636.32" width="35.55" height="11.49" fill="#16feb2"/>
<rect x="377.37" y="636.32" width="35.55" height="11.49" fill="#ffc32d"/>
<rect x="412.92" y="636.32" width="35.55" height="11.49" fill="#16feb2"/>
<rect x="448.47" y="636.32" width="35.55" height="11.49" fill="#ffc32d"/>
<rect x="484.02" y="636.32" width="35.55" height="11.49" fill="#61ff65"/>
<rect x="519.58" y="636.32" width="35.55" height="11.49" fill="#11dce8"/>
<rect x="555.13" y="636.32" width="35.55" height="11.49" fill="#61ff65"/>
<rect x="590.68" y="636.32" width="35.55" height="11.49" fill="#0beecf"/>
<rect x="626.24" y="636.32" width="35.55" height="11.49" fill="#11dce8"/>
<rect x="661.79" y="636.32" width="35.55" height="11.49" fill="#32ff91"/>
<rect x="697.34" y="636.32" width="71.11" height="11.49" fill="#0beecf"/>
<rect x="768.45" y="636.32" width="35.55" height="11.49" fill="#90ff3f"/>
<rect x="804.00" y="636.32" width="35.55" height="11.49" fill="#d7fb27"/>
<rect x="839.55" y="636.32" width="35.55" height="11.49" fill="#16feb2"/>
<rect x="875.11" y="636.32" width="35.55" height="11.49" fill="#61ff65"/>
<rect x="910.66" y="636.32" width="35.55" height="11.49" fill="#90ff3f"/>
<rect x="946.21" y="636.32" width="35.55" height="11.49" fill="#61ff65"/>
<rect x="981.77" y="636.32" width="35.55" height="11.49" fill="#d7fb27"/>
<rect x="1017.32" y="636.32" width="35.55" height="11.49" fill="#0beecf"/>
<rect x="1052.87" y="636.32" width="35.55" height="11.49" fill="#61ff65"/>
<rect x="1088.42" y="636.32" width="35.55" height="11.49" fill="#32ff91"/>
<rect x="1123.98" y="636.32" width="35.55" height="11.49" fill="#0beecf"/>
<rect x="1159.53" y="636.32" width="35.55" height="11.49" fill="#61ff65"/>
<rect x="1195.08" y="636.32" width="35.55" height="11.49" fill="#16feb2"/>
<rect x="1230.64" y="636.32" width="35.55" height="11.49" fill="#0beecf"/>
<rect x="1266.19" y="636.32" width="35.55" height="11.49" fill="#11dce8"/>
<rect x="1301.74" y="636.32" width="35.55" height="11.49" fill="#0beecf"/>
<rect x="1337.30" y="636.32" width="35.55" height="11.49" fill="#16feb2"/>
<rect x="1372.85" y="636.32" width="71.11" height="11.49" fill="#23c2ff"/>
<rect x="1443.95" y="636.32" width="71.11" height="11.49" fill="#37a6ff"/>
<rect x="1515.06" y="636.32" width="142.21" height="11.49" fill="#446df3"/>
<rect x="1657.27" y="637.01" width="35.55" height="11.56" fill="#446df3"/>
<rect x="1692.83" y="636.32" width="35.55" height="11.49" fill="#ffffff"/>
<rect x="199.60" y="654.30" width="35.55" height="11.49" fill="#ff951e"/>
<rect x="235.15" y="654.30" width="35.55" height="11.49" fill="#32ff91"/>
<rect x="270.71" y="654.30" width="35.55" height="11.49" fill="#baff28"/>
<rect x="306.26" y="654.30" width="142.21" height="11.49" fill="#0beecf"/>
<rect x="448.47" y="654.30" width="35.55" height="11.49" fill="#16feb2"/>
<rect x="484.02" y="654.30" width="35.55" height="11.49" fill="#0beecf"/>
<rect x="519.58" y="654.30" width="35.55" height="11.49" fill="#16feb2"/>
<rect x="555.13" y="654.30" width="71.11" height="11.49" fill="#11dce8"/>
<rect x="626.24" y="654.30" width="35.55" height="11.49" fill="#90ff3f"/>
<rect x="661.79" y="654.30" width="35.55" height="11.49" fill="#23c2ff"/>
<rect x="697.34" y="654.30" width="35.55" height="11.49" fill="#61ff65"/>
<rect x="732.89" y="654.30" width="35.55" height="11.49" fill="#d7fb27"/>
<rect x="768.45" y="654.30" width="35.55" height="11.49" fill="#32ff91"/>
<rect x="804.00" y="654.30" width="71.11" height="11.49" fill="#16feb2"/>
<rect x="875.11" y="654.30" width="35.55" height="11.49" fill="#0beecf"/>
<rect x="910.66" y="654.30" width="35.55" height="11.49" fill="#32ff91"/>
<rect x="946.21" y="654.30" width="35.55" height="11.49" fill="#16feb2"/>
<rect x="981.77" y="654.30" width="71.11" height="11.49" fill="#0beecf"/>
<rect x="1052.87" y="654.30" width="71.11" height="11.49" fill="#16feb2"/>
<rect x="1123.98" y="654.30" width="71.11" height="11.49" fill="#0beecf"/>
<rect x="1195.08" y="654.30" width="35.55" height="11.49" fill="#61ff65"/>
<rect x="1230.64" y="654.30" width="71.11" height="11.49" fill="#0beecf"/>
<rect x="1301.74" y="654.30" width="106.66" height="11.49" fill="#11dce8"/>
<rect x="1408.40" y="654.30" width="35.55" height="11.49" fill="#37a6ff"/>
<rect x="1443.95" y="654.30" width="142.21" height="11.49" fill="#446df3"/>
<rect x="1586.17" y="654.30" width="35.55" height="11.49" fill="#37a6ff"/>
<rect x="1621.72" y="654.30" width="35.55" height="11.49" fill="#446df3"/>
<rect x="1657.27" y="655.10" width="35.55" height="11.56" fill="#446df3"/>
<rect x="1692.83" y="654.30" width="35.55" height="11.49" fill="#ffffff"/>
<rect x="199.60" y="672.28" width="106.66" height="11.49" fill="#16feb2"/>
<rect x="306.26" y="672.28" width="35.55" height="11.49" fill="#23c2ff"/>
<rect x="341.81" y="672.28" width="35.55" height="11.49" fill="#baff28"/>
<rect x="377.37" y="672.28" width="35.55" height="11.49" fill="#61ff65"/>
<rect x="412.92" y="672.28" width="35.55" height="11.49" fill="#0beecf"/>
<rect x="448.47" y="672.28" width="35.55" height="11.49" fill="#61ff65"/>
<rect x="484.02" y="672.28" width="35.55" height="11.49" fill="#0beecf"/>
<rect x="519.58" y="672.28" width="35.55" height="11.49" fill="#61ff65"/>
<rect x="555.13" y="672.28" width="35.55" height="11.49" fill="#0beecf"/>
<rect x="590.68" y="672.28" width="35.55" height="11.49" fill="#11dce8"/>
<rect x="626.24" y="672.28" width="35.55" height="11.49" fill="#0beecf"/>
<rect x="661.79" y="672.28" width="35.55" height="11.49" fill="#11dce8"/>
<rect x="697.34" y="672.28" width="35.55" height="11.49" fill="#d62000"/>
<rect x="732.89" y="672.28" width="35.55" height="11.49" fill="#ffc32d"/>
<rect x="768.45" y="672.28" width="35.55" height="11.49" fill="#23c2ff"/>
<rect x="804.00" y="672.28" width="35.55" height="11.49" fill="#baff28"/>
<rect x="839.55" y="672.28" width="35.55" height="11.49" fill="#0beecf"/>
<rect x="875.11" y="672.28" width="35.55" height="11.49" fill="#11dce8"/>
<rect x="910.66" y="672.28" width="71.11" height="11.49" fill="#0beecf"/>
<rect x="981.77" y="672.28" width="35.55" height="11.49" fill="#32ff91"/>
<rect x="1017.32" y="672.28" width="35.55" height="11.49" fill="#11dce8"/>
<rect x="1052.87" y="672.28" width="35.55" height="11.49" fill="#23c2ff"/>
<rect x="1088.42" y="672.28" width="35.55" height="11.49" fill="#11dce8"/>
<rect x="1123.98" y="672.28" width="35.55" height="11.49" fill="#23c2ff"/>
<rect x="1159.53" y="672.28" width="35.55" height="11.49" fill="#61ff65"/>
<rect x="1195.08" y="672.28" width="35.55" height="11.49" fill="#37a6ff"/>
<rect x="1230.64" y="672.28" width="35.55" height="11.49" fill="#23c2ff"/>
<rect x="1266.19" y="672.28" width="35.55" height="11.49" fill="#11dce8"/>
<rect x="1301.74" y="672.28" width="71.11" height="11.49" fill="#0beecf"/>
<rect x="1372.85" y="672.28" width="71.11" height="11.49" fill="#37a6ff"/>
<rect x="1443.95" y="672.28" width="71.11" height="11.49" fill="#446df3"/>
<rect x="1515.06" y="672.28" width="35.55" height="11.49" fill="#0beecf"/>
<rect x="1550.61" y="672.28" width="35.55" height="11.49" fill="#446df3"/>
<rect x="1586.17" y="672.28" width="71.11" height="11.49" fill="#4256d2"/>
<rect x="1657.27" y="673.19" width="35.55" height="11.56" fill="#4256d2"/>
<rect x="1692.83" y="672.28" width="35.55" height="11.49" fill="#ffffff"/>
<rect x="199.60" y="690.26" width="35.55" height="11.49" fill="#ffc32d"/>
<rect x="235.15" y="690.26" width="35.55" height="11.49" fill="#37a6ff"/>
<rect x="270.71" y="690.26" width="35.55" height="11.49" fill="#11dce8"/>
<rect x="306.26" y="690.26" width="35.55" height="11.49" fill="#23c2ff"/>
<rect x="341.81" y="690.26" width="35.55" height="11.49" fill="#11dce8"/>
<rect x="377.37" y="690.26" width="35.55" height="11.49" fill="#23c2ff"/>
<rect x="412.92" y="690.26" width="71.11" height="11.49" fill="#0beecf"/>
<rect x="484.02" y="690.26" width="35.55" height="11.49" fill="#90ff3f"/>
<rect x="519.58" y="690.26" width="35.55" height="11.49" fill="#16feb2"/>
<rect x="555.13" y="690.26" width="35.55" height="11.49" fill="#11dce8"/>
<rect x="590.68" y="690.26" width="35.55" height="11.49" fill="#32ff91"/>
<rect x="626.24" y="690.26" width="106.66" height="11.49" fill="#0beecf"/>
<rect x="732.89" y="690.26" width="35.55" height="11.49" fill="#16feb2"/>
<rect x="768.45" y="690.26" width="35.55" height="11.49" fill="#23c2ff"/>
<rect x="804.00" y="690.26" width="71.11" height="11.49" fill="#0beecf"/>
<rect x="875.11" y="690.26" width="35.55" height="11.49" fill="#11dce8"/>
<rect x="910.66" y="690.26" width="71.11" height="11.49" fill="#16feb2"/>
<rect x="981.77" y="690.26" width="35.55" height="11.49" fill="#0beecf"/>
<rect x="1017.32" y="690.26" width="35.55" height="11.49" fill="#23c2ff"/>
<rect x="1052.87" y="690.26" width="71.11" height="11.49" fill="#0beecf"/>
<rect x="1123.98" y="690.26" width="35.55" height="11.49" fill="#23c2ff"/>
<rect x="1159.53" y="690.26" width="35.55" height="11.49" fill="#11dce8"/>
<rect x="1195.08" y="690.26" width="71.11" height="11.49" fill="#0beecf"/>
<rect x="1266.19" y="690.26" width="35.55" height="11.49" fill="#16feb2"/>
<rect x="1301.74" y="690.26" width="35.55" height="11.49" fill="#0beecf"/>
<rect x="1337.30" y="690.26" width="35.55" height="11.49" fill="#23c2ff"/>
<rect x="1372.85" y="690.26" width="35.55" height="11.49" fill="#37a6ff"/>
<rect x="1408.40" y="690.26" width="35.55" height="11.49" fill="#446df3"/>
<rect x="1443.95" y="690.26" width="35.55" height="11.49" fill="#23c2ff"/>
<rect x="1479.51" y="690.26" width="71.11" height="11.49" fill="#37a6ff"/>
<rect x="1550.61" y="690.26" width="35.55" height="11.49" fill="#4256d2"/>
<rect x="1586.17" y="690.26" width="35.55" height="11.49" fill="#446df3"/>
<rect x="1621.72" y="690.26" width="35.55" height="11.49" fill="#4256d2"/>
<rect x="1657.27" y="691.28" width="35.55" height="11.56" fill="#4256d2"/>
<rect x="1692.83" y="690.26" width="35.55" height="11.49" fill="#ffffff"/>
<rect x="199.60" y="708.24" width="35.55" height="11.49" fill="#23c2ff"/>
<rect x="235.15" y="708.24" width="35.55" height="11.49" fill="#16feb2"/>
<rect x="270.71" y="708.24" width="35.55" height="11.49" fill="#ffc32d"/>
<rect x="306.26" y="708.24" width="35.55" height="11.49" fill="#e52b00"/>
<rect x="341.81" y="708.24" width="71.11" height="11.49" fill="#23c2ff"/>
<rect x="412.92" y="708.24" width="35.55" height="11.49" fill="#16feb2"/>
<rect x="448.47" y="708.24" width="35.55" height="11.49" fill="#11dce8"/>
<rect x="484.02" y="708.24" width="35.55" height="11.49" fill="#37a6ff"/>
<rect x="519.58" y="708.24" width="35.55" height="11.49" fill="#11dce8"/>
<rect x="555.13" y="708.24" width="35.55" height="11.49" fill="#e96fe3"/>
<rect x="590.68" y="708.24" width="71.11" height="11.49" fill="#11dce8"/>
<rect x="661.79" y="708.24" width="35.55" height="11.49" fill="#32ff91"/>
<rect x="697.34" y="708.24" width="35.55" height="11.49" fill="#16feb2"/>
<rect x="732.89" y="708.24" width="35.55" height="11.49" fill="#11dce8"/>
<rect x="768.45" y="708.24" width="71.11" height="11.49" fill="#baff28"/>
<rect x="839.55" y="708.24" width="35.55" height="11.49" fill="#61ff65"/>
<rect x="875.11" y="708.24" width="35.55" height="11.49" fill="#11dce8"/>
<rect x="910.66" y="708.24" width="35.55" height="11.49" fill="#90ff3f"/>
<rect x="946.21" y="708.24" width="35.55" height="11.49" fill="#32ff91"/>
<rect x="981.77" y="708.24" width="35.55" height="11.49" fill="#ad0c00"/>
<rect x="1017.32" y="708.24" width="35.55" height="11.49" fill="#11dce8"/>
<rect x="1052.87" y="708.24" width="35.55" height="11.49" fill="#baff28"/>
<rect x="1088.42" y="708.24" width="35.55" height="11.49" fill="#0beecf"/>
<rect x="1123.98" y="708.24" width="35.55" height="11.49" fill="#11dce8"/>
<rect x="1159.53" y="708.24" width="35.55" height="11.49" fill="#23c2ff"/>
<rect x="1195.08" y="708.24" width="71.11" height="11.49" fill="#37a6ff"/>
<rect x="1266.19" y="708.24" width="71.11" height="11.49" fill="#23c2ff"/>
<rect x="1337.30" y="708.24" width="106.66" height="11.49" fill="#37a6ff"/>
<rect x="1443.95" y="708.24" width="35.55" height="11.49" fill="#23c2ff"/>
<rect x="1479.51" y="708.24" width="71.11" height="11.49" fill="#446df3"/>
<rect x="1550.61" y="708.24" width="35.55" height="11.49" fill="#37a6ff"/>
<rect x="1586.17" y="708.24" width="71.11" height="11.49" fill="#446df3"/>
<rect x="1657.27" y="709.37" width="35.55" height="11.56" fill="#446df3"/>
<rect x="1692.83" y="708.24" width="35.55" height="11.49" fill="#ffffff"/>
<rect x="199.60" y="726.22" width="71.11" height="11.49" fill="#16feb2"/>
<rect x="270.71" y="726.22" width="35.55" height="11.49" fill="#23c2ff"/>
<rect x="306.26" y="726.22" width="35.55" height="11.49" fill="#efea2b"/>
<rect x="341.81" y="726.22" width="35.55" height="11.49" fill="#32ff91"/>
<rect x="377.37" y="726.22" width="35.55" height="11.49" fill="#16feb2"/>
<rect x="412.92" y="726.22" width="35.55" height="11.49" fill="#efea2b"/>
<rect x="448.47" y="726.22" width="35.55" height="11.49" fill="#32ff91"/>
<rect x="484.02" y="726.22" width="35.55" height="11.49" fill="#fb4400"/>
<rect x="519.58" y="726.22" width="35.55" height="11.49" fill="#11dce8"/>
<rect x="555.13" y="726.22" width="35.55" height="11.49" fill="#61ff65"/>
<rect x="590.68" y="726.22" width="35.55" height="11.49" fill="#11dce8"/>
<rect x="626.24" y="726.22" width="35.55" height="11.49" fill="#d7fb27"/>
<rect x="661.79" y="726.22" width="35.55" height="11.49" fill="#32ff91"/>
<rect x="697.34" y="726.22" width="35.55" height="11.49" fill="#baff28"/>
<rect x="732.89" y="726.22" width="71.11" height="11.49" fill="#23c2ff"/>
<rect x="804.00" y="726.22" width="35.55" height="11.49" fill="#fb4400"/>
<rect x="839.55" y="726.22" width="35.55" height="11.49" fill="#61ff65"/>
<rect x="875.11" y="726.22" width="71.11" height="11.49" fill="#11dce8"/>
<rect x="946.21" y="726.22" width="35.55" height="11.49" fill="#16feb2"/>
<rect x="981.77" y="726.22" width="35.55" height="11.49" fill="#11dce8"/>
<rect x="1017.32" y="726.22" width="71.11" height="11.49" fill="#16feb2"/>
<rect x="1088.42" y="726.22" width="35.55" height="11.49" fill="#23c2ff"/>
<rect x="1123.98" y="726.22" width="35.55" height="11.49" fill="#11dce8"/>
<rect x="1159.53" y="726.22" width="35.55" height="11.49" fill="#23c2ff"/>
<rect x="1195.08" y="726.22" width="35.55" height="11.49" fill="#11dce8"/>
<rect x="1230.64" y="726.22" width="35.55" height="11.49" fill="#37a6ff"/>
<rect x="1266.19" y="726.22" width="71.11" height="11.49" fill="#11dce8"/>
<rect x="1337.30" y="726.22" width="35.55" height="11.49" fill="#23c2ff"/>
<rect x="1372.85" y="726.22" width="142.21" height="11.49" fill="#37a6ff"/>
<rect x="1515.06" y="726.22" width="106.66" height="11.49" fill="#446df3"/>
<rect x="1621.72" y="726.22" width="35.55" height="11.49" fill="#4256d2"/>
<rect x="1657.27" y="727.45" width="35.55" height="11.56" fill="#4256d2"/>
<rect x="1692.83" y="726.22" width="35.55" height="11.49" fill="#ffffff"/>
<rect x="199.60" y="744.20" width="35.55" height="11.49" fill="#37a6ff"/>
<rect x="235.15" y="744.20" width="35.55" height="11.49" fill="#23c2ff"/>
<rect x="270.71" y="744.20" width="35.55" height="11.49" fill="#32ff91"/>
<rect x="306.26" y="744.20" width="71.11" height="11.49" fill="#0beecf"/>
<rect x="377.37" y="744.20" width="35.55" height="11.49" fill="#11dce8"/>
<rect x="412.92" y="744.20" width="35.55" height="11.49" fill="#23c2ff"/>
<rect x="448.47" y="744.20" width="71.11" height="11.49" fill="#90ff3f"/>
<rect x="519.58" y="744.20" width="35.55" height="11.49" fill="#11dce8"/>
<rect x="555.13" y="744.20" width="35.55" height="11.49" fill="#0beecf"/>
<rect x="590.68" y="744.20" width="35.55" height="11.49" fill="#ffc32d"/>
<rect x="626.24" y="744.20" width="35.55" height="11.49" fill="#0beecf"/>
<rect x="661.79" y="744.20" width="35.55" height="11.49" fill="#16feb2"/>
<rect x="697.34" y="744.20" width="35.55" height="11.49" fill="#ffc32d"/>
<rect x="732.89" y="744.20" width="35.55" height="11.49" fill="#efea2b"/>
<rect x="768.45" y="744.20" width="35.55" height="11.49" fill="#16feb2"/>
<rect x="804.00" y="744.20" width="71.11" height="11.49" fill="#32ff91"/>
<rect x="875.11" y="744.20" width="35.55" height="11.49" fill="#11dce8"/>
<rect x="910.66" y="744.20" width="35.55" height="11.49" fill="#16feb2"/>
<rect x="946.21" y="744.20" width="35.55" height="11.49" fill="#0beecf"/>
<rect x="981.77" y="744.20" width="35.55" height="11.49" fill="#32ff91"/>
<rect x="1017.32" y="744.20" width="35.55" height="11.49" fill="#0beecf"/>
<rect x="1052.87" y="744.20" width="35.55" height="11.49" fill="#d7fb27"/>
<rect x="1088.42" y="744.20" width="71.11" height="11.49" fill="#0beecf"/>
<rect x="1159.53" y="744.20" width="35.55" height="11.49" fill="#11dce8"/>
<rect x="1195.08" y="744.20" width="35.55" height="11.49" fill="#16feb2"/>
<rect x="1230.64" y="744.20" width="35.55" height="11.49" fill="#11dce8"/>
<rect x="1266.19" y="744.20" width="35.55" height="11.49" fill="#23c2ff"/>
<rect x="1301.74" y="744.20" width="35.55" height="11.49" fill="#0beecf"/>
<rect x="1337.30" y="744.20" width="35.55" height="11.49" fill="#61ff65"/>
<rect x="1372.85" y="744.20" width="71.11" height="11.49" fill="#23c2ff"/>
<rect x="1443.95" y="744.20" width="35.55" height="11.49" fill="#37a6ff"/>
<rect x="1479.51" y="744.20" width="71.11" height="11.49" fill="#446df3"/>
<rect x="1550.61" y="744.20" width="35.55" height="11.49" fill="#4256d2"/>
<rect x="1586.17" y="744.20" width="35.55" height="11.49" fill="#446df3"/>
<rect x="1621.72" y="744.20" width="35.55" height="11.49" fill="#16feb2"/>
<rect x="1657.27" y="745.54" width="35.55" height="11.56" fill="#16feb2"/>
<rect x="1692.83" y="744.20" width="35.55" height="11.49" fill="#ffffff"/>
<rect x="199.60" y="762.18" width="35.55" height="11.49" fill="#d7fb27"/>
<rect x="235.15" y="762.18" width="35.55" height="11.49" fill="#16feb2"/>
<rect x="270.71" y="762.18" width="35.55" height="11.49" fill="#23c2ff"/>
<rect x="306.26" y="762.18" width="35.55" height="11.49" fill="#16feb2"/>
<rect x="341.81" y="762.18" width="35.55" height="11.49" fill="#0beecf"/>
<rect x="377.37" y="762.18" width="35.55" height="11.49" fill="#16feb2"/>
<rect x="412.92" y="762.18" width="35.55" height="11.49" fill="#23c2ff"/>
<rect x="448.47" y="762.18" width="71.11" height="11.49" fill="#0beecf"/>
<rect x="519.58" y="762.18" width="35.55" height="11.49" fill="#11dce8"/>
<rect x="555.13" y="762.18" width="35.55" height="11.49" fill="#4256d2"/>
<rect x="590.68" y="762.18" width="35.55" height="11.49" fill="#90ff3f"/>
<rect x="626.24" y="762.18" width="35.55" height="11.49" fill="#32ff91"/>
<rect x="661.79" y="762.18" width="35.55" height="11.49" fill="#446df3"/>
<rect x="697.34" y="762.18" width="35.55" height="11.49" fill="#ffc32d"/>
<rect x="732.89" y="762.18" width="35.55" height="11.49" fill="#d7fb27"/>
<rect x="768.45" y="762.18" width="35.55" height="11.49" fill="#90ff3f"/>
<rect x="804.00" y="762.18" width="35.55" height="11.49" fill="#efea2b"/>
<rect x="839.55" y="762.18" width="35.55" height="11.49" fill="#11dce8"/>
<rect x="875.11" y="762.18" width="35.55" height="11.49" fill="#90ff3f"/>
<rect x="910.66" y="762.18" width="35.55" height="11.49" fill="#0beecf"/>
<rect x="946.21" y="762.18" width="35.55" height="11.49" fill="#61ff65"/>
<rect x="981.77" y="762.18" width="35.55" height="11.49" fill="#0beecf"/>
<rect x="1017.32" y="762.18" width="35.55" height="11.49" fill="#90ff3f"/>
<rect x="1052.87" y="762.18" width="35.55" height="11.49" fill="#11dce8"/>
<rect x="1088.42" y="762.18" width="35.55" height="11.49" fill="#90ff3f"/>
<rect x="1123.98" y="762.18" width="35.55" height="11.49" fill="#0beecf"/>
<rect x="1159.53" y="762.18" width="35.55" height="11.49" fill="#16feb2"/>
<rect x="1195.08" y="762.18" width="35.55" height="11.49" fill="#11dce8"/>
<rect x="1230.64" y="762.18" width="71.11" height="11.49" fill="#0beecf"/>
<rect x="1301.74" y="762.18" width="35.55" height="11.49" fill="#23c2ff"/>
<rect x="1337.30" y="762.18" width="35.55" height="11.49" fill="#0beecf"/>
<rect x="1372.85" y="762.18" width="35.55" height="11.49" fill="#23c2ff"/>
<rect x="1408.40" y="762.18" width="35.55" height="11.49" fill="#37a6ff"/>
<rect x="1443.95" y="762.18" width="35.55" height="11.49" fill="#23c2ff"/>
<rect x="1479.51" y="762.18" width="71.11" height="11.49" fill="#37a6ff"/>
<rect x="1550.61" y="762.18" width="35.55" height="11.49" fill="#23c2ff"/>
<rect x="1586.17" y="762.18" width="35.55" height="11.49" fill="#446df3"/>
<rect x="1621.72" y="762.18" width="35.55" height="11.49" fill="#23c2ff"/>
<rect x="1657.27" y="763.63" width="35.55" height="11.56" fill="#23c2ff"/>
<rect x="1692.83" y="762.18" width="35.55" height="11.49" fill="#ffffff"/>
<rect x="199.60" y="780.16" width="35.55" height="10.24" fill="#32ff91"/>
<rect x="235.15" y="780.16" width="35.55" height="10.24" fill="#61ff65"/>
<rect x="270.71" y="780.16" width="35.55" height="10.24" fill="#90ff3f"/>
<rect x="306.26" y="780.16" width="35.55" height="10.24" fill="#0beecf"/>
<rect x="341.81" y="780.16" width="35.55" height="10.24" fill="#d7fb27"/>
<rect x="377.37" y="780.16" width="35.55" height="10.24" fill="#0beecf"/>
<rect x="412.92" y="780.16" width="35.55" height="10.24" fill="#32ff91"/>
<rect x="448.47" y="780.16" width="35.55" height="10.24" fill="#16feb2"/>
<rect x="484.02" y="780.16" width="35.55" height="10.24" fill="#e52b00"/>
<rect x="519.58" y="780.16" width="35.55" height="10.24" fill="#61ff65"/>
<rect x="555.13" y="780.16" width="35.55" height="10.24" fill="#0beecf"/>
<rect x="590.68" y="780.16" width="35.55" height="10.24" fill="#11dce8"/>
<rect x="626.24" y="780.16" width="35.55" height="10.24" fill="#61ff65"/>
<rect x="661.79" y="780.16" width="35.55" height="10.24" fill="#32ff91"/>
<rect x="697.34" y="780.16" width="35.55" height="10.24" fill="#0beecf"/>
<rect x="732.89" y="780.16" width="71.11" height="10.24" fill="#16feb2"/>
<rect x="804.00" y="780.16" width="35.55" height="10.24" fill="#32ff91"/>
<rect x="839.55" y="780.16" width="35.55" height="10.24" fill="#d7fb27"/>
<rect x="875.11" y="780.16" width="35.55" height="10.24" fill="#0beecf"/>
<rect x="910.66" y="780.16" width="35.55" height="10.24" fill="#32ff91"/>
<rect x="946.21" y="780.16" width="35.55" height="10.24" fill="#baff28"/>
<rect x="981.77" y="780.16" width="35.55" height="10.24" fill="#61ff65"/>
<rect x="1017.32" y="780.16" width="71.11" height="10.24" fill="#32ff91"/>
<rect x="1088.42" y="780.16" width="35.55" height="10.24" fill="#61ff65"/>
<rect x="1123.98" y="780.16" width="35.55" height="10.24" fill="#11dce8"/>
<rect x="1159.53" y="780.16" width="35.55" height="10.24" fill="#16feb2"/>
<rect x="1195.08" y="780.16" width="35.55" height="10.24" fill="#0beecf"/>
<rect x="1230.64" y="780.16" width="35.55" height="10.24" fill="#11dce8"/>
<rect x="1266.19" y="780.16" width="35.55" height="10.24" fill="#0beecf"/>
<rect x="1301.74" y="780.16" width="35.55" height="10.24" fill="#90ff3f"/>
<rect x="1337.30" y="780.16" width="35.55" height="10.24" fill="#0beecf"/>
<rect x="1372.85" y="780.16" width="35.55" height="10.24" fill="#11dce8"/>
<rect x="1408.40" y="780.16" width="35.55" height="10.24" fill="#23c2ff"/>
<rect x="1443.95" y="780.16" width="35.55" height="10.24" fill="#37a6ff"/>
<rect x="1479.51" y="780.16" width="106.66" height="10.24" fill="#446df3"/>
<rect x="1586.17" y="780.16" width="35.55" height="10.24" fill="#4256d2"/>
<rect x="1621.72" y="780.16" width="35.55" height="10.24" fill="#446df3"/>
<rect x="1657.27" y="781.72" width="35.55" height="10.30" fill="#37a6ff"/>
<rect x="1692.83" y="780.16" width="35.55" height="10.24" fill="#0beecf"/>
<path d="M1692.83 259.99H1728.38M1692.83 268.98H1728.38M1692.83 277.97H1728.38M1692.83 286.96H1728.38M1692.83 295.95H1728.38M1692.83 304.94H1728.38M1692.83 313.93H1728.38M1692.83 322.92H1728.38M1692.83 331.91H1728.38M1692.83 340.90H1728.38M1692.83 349.89H1728.38M1692.83 358.88H1728.38M1692.83 367.87H1728.38M1692.83 376.86H1728.38M1692.83 385.85H1728.38M1692.83 394.84H1728.38M1692.83 403.83H1728.38M1692.83 412.82H1728.38M1692.83 421.81H1728.38M1692.83 430.80H1728.38M1692.83 439.79H1728.38M1692.83 448.78H1728.38M1692.83 457.77H1728.38M1692.83 466.76H1728.38M1692.83 475.75H1728.38M1692.83 484.74H1728.38M1692.83 493.73H1728.38M1692.83 502.72H1728.38M1692.83 511.71H1728.38M1692.83 520.70H1728.38M1692.83 529.69H1728.38M1692.83 538.68H1728.38M1692.83 547.67H1728.38M1692.83 556.66H1728.38M1692.83 565.65H1728.38M1692.83 574.64H1728.38M1692.83 583.63H1728.38M1692.83 592.62H1728.38M1692.83 601.61H1728.38M1692.83 610.60H1728.38M1692.83 619.59H1728.38M1692.83 628.58H1728.38M1692.83 637.57H1728.38M1692.83 646.56H1728.38M1692.83 655.55H1728.38M1692.83 664.54H1728.38M1692.83 673.53H1728.38M1692.83 682.52H1728.38M1692.83 691.51H1728.38M1692.83 700.50H1728.38M1692.83 709.49H1728.38M1692.83 718.48H1728.38M1692.83 727.47H1728.38M1692.83 736.46H1728.38M1692.83 745.45H1728.38M1692.83 754.44H1728.38M1692.83 763.43H1728.38M1692.83 772.42H1728.38M1692.83 781.41H1692.93" stroke="#000" stroke-opacity="0.48000000000000004" stroke-width="2.0" fill="none"/>
<path d="M199.60 259.99H1657.27M199.60 268.98H1657.27M199.60 277.97H1657.27M199.60 286.96H1657.27M199.60 295.95H1657.27M199.60 304.94H1657.27M199.60 313.93H1657.27M199.60 322.92H1657.27M199.60 331.91H1657.27M199.60 340.90H1657.27M199.60 349.89H1657.27M199.60 358.88H1657.27M199.60 367.87H1657.27M199.60 376.86H1657.27M199.60 385.85H1657.27M199.60 394.84H1657.27M199.60 403.83H1657.27M199.60 412.82H1657.27M199.60 421.81H1657.27M199.60 430.80H1657.27M199.60 439.79H1657.27M199.60 448.78H1657.27M199.60 457.77H1657.27M199.60 466.76H1657.27M199.60 475.75H1657.27M199.60 484.74H1657.27M199.60 493.73H1657.27M199.60 502.72H1657.27M199.60 511.71H1657.27M199.60 520.70H1657.27M199.60 529.69H1657.27M199.60 538.68H1657.27M199.60 547.67H1657.27M199.60 556.66H1657.27M199.60 565.65H1657.27M199.60 574.64H1657.27M199.60 583.63H1657.27M199.60 592.62H1657.27M199.60 601.61H1657.27M199.60 610.60H1657.27M199.60 619.59H1657.27M199.60 628.58H1657.27M199.60 637.57H1657.27M199.60 646.56H1657.27M199.60 655.55H1657.27M199.60 664.54H1657.27M199.60 673.53H1657.27M199.60 682.52H1657.27M199.60 691.51H1657.27M199.60 700.50H1657.27M199.60 709.49H1657.27M199.60 718.48H1657.27M199.60 727.47H1657.27M199.60 736.46H1657.27M199.60 745.45H1657.27M199.60 754.44H1657.27M199.60 763.43H1657.27M199.60 772.42H1657.27M199.60 781.41H1657.27M1692.83 781.41H1728.38" stroke="#000" stroke-opacity="0.48" stroke-width="2.5" fill="none"/>
<path d="M1657.27 258.43H1692.83M1657.27 267.47H1692.83M1657.27 276.51H1692.83M1657.27 285.56H1692.83M1657.27 294.60H1692.83M1657.27 303.65H1692.83M1657.27 312.69H1692.83M1657.27 321.73H1692.83M1657.27 330.78H1692.83M1657.27 339.82H1692.83M1657.27 348.87H1692.83M1657.27 357.91H1692.83M1657.27 366.95H1692.83M1657.27 376.00H1692.83M1657.27 385.04H1692.83M1657.27 394.08H1692.83M1657.27 403.13H1692.83M1657.27 412.17H1692.83M1657.27 421.22H1692.83M1657.27 430.26H1692.83M1657.27 439.30H1692.83M1657.27 448.35H1692.83M1657.27 457.39H1692.83M1657.27 466.44H1692.83M1657.27 475.48H1692.83M1657.27 484.52H1692.83M1657.27 493.57H1692.83M1657.27 502.61H1692.83M1657.27 511.66H1692.83M1657.27 520.70H1692.83M1657.27 529.74H1692.83M1657.27 538.79H1692.83M1657.27 547.83H1692.83M1657.27 556.88H1692.83M1657.27 565.92H1692.83M1657.27 574.96H1692.83M1657.27 584.01H1692.83M1657.27 593.05H1692.83M1657.27 602.10H1692.83M1657.27 611.14H1692.83M1657.27 620.18H1692.83M1657.27 629.23H1692.83M1657.27 638.27H1692.83M1657.27 647.32H1692.83M1657.27 656.36H1692.83M1657.27 665.40H1692.83M1657.27 674.45H1692.83M1657.27 683.49H1692.83M1657.27 692.53H1692.83M1657.27 701.58H1692.83M1657.27 710.62H1692.83M1657.27 719.67H1692.83M1657.27 728.71H1692.83M1657.27 737.75H1692.83M1657.27 746.80H1692.83M1657.27 755.84H1692.83M1657.27 764.89H1692.83M1657.27 773.93H1692.83M1657.27 782.97H1692.83" stroke="#052478" stroke-opacity="0.66" stroke-width="2.5" fill="none"/>
<path d="M199.60 251.0V790.40M235.15 251.0V790.40M270.71 251.0V790.40M306.26 251.0V790.40M341.81 251.0V790.40M377.37 251.0V790.40M412.92 251.0V790.40M448.47 251.0V790.40M484.02 251.0V790.40M519.58 251.0V790.40M555.13 251.0V790.40M590.68 251.0V790.40M626.24 251.0V790.40M661.79 251.0V790.40M697.34 251.0V790.40M732.89 251.0V790.40M768.45 251.0V790.40M804.00 251.0V790.40M839.55 251.0V790.40M875.11 251.0V790.40M910.66 251.0V790.40M946.21 251.0V790.40M981.77 251.0V790.40M1017.32 251.0V790.40M1052.87 251.0V790.40M1088.42 251.0V790.40M1123.98 251.0V790.40M1159.53 251.0V790.40M1195.08 251.0V790.40M1230.64 251.0V790.40M1266.19 251.0V790.40M1301.74 251.0V790.40M1337.30 251.0V790.40M1372.85 251.0V790.40M1408.40 251.0V790.40M1443.95 251.0V790.40M1479.51 251.0V790.40M1515.06 251.0V790.40M1550.61 251.0V790.40M1586.17 251.0V790.40M1621.72 251.0V790.40M1728.38 251.0V790.40" stroke="#000" stroke-opacity="0.6" stroke-width="2.3" fill="none"/>
<path d="M199.60 251.0V790.40M235.15 251.0V790.40M270.71 251.0V790.40M306.26 251.0V790.40M341.81 251.0V790.40M377.37 251.0V790.40M412.92 251.0V790.40M448.47 251.0V790.40M484.02 251.0V790.40M519.58 251.0V790.40M555.13 251.0V790.40M590.68 251.0V790.40M626.24 251.0V790.40M661.79 251.0V790.40M697.34 251.0V790.40M732.89 251.0V790.40M768.45 251.0V790.40M804.00 251.0V790.40M839.55 251.0V790.40M875.11 251.0V790.40M910.66 251.0V790.40M946.21 251.0V790.40M981.77 251.0V790.40M1017.32 251.0V790.40M1052.87 251.0V790.40M1088.42 251.0V790.40M1123.98 251.0V790.40M1159.53 251.0V790.40M1195.08 251.0V790.40M1230.64 251.0V790.40M1266.19 251.0V790.40M1301.74 251.0V790.40M1337.30 251.0V790.40M1372.85 251.0V790.40M1408.40 251.0V790.40M1443.95 251.0V790.40M1479.51 251.0V790.40M1515.06 251.0V790.40M1550.61 251.0V790.40M1586.17 251.0V790.40M1621.72 251.0V790.40" stroke="#000" stroke-opacity="0.5" stroke-width="2.5" stroke-dasharray="11.49 6.49" stroke-dashoffset="-7.74" fill="none"/>
<path d="M1657.27 251.0V790.40M1692.83 251.0V790.40" stroke="#020f3c" stroke-opacity="0.78" stroke-width="2.5" fill="none"/>
<path d="M190.0 251.3H1763.93" stroke="#000" stroke-opacity="0.35" stroke-width="1.6" fill="none"/>
<path d="M1763.63 251.0V790.40" stroke="#000" stroke-opacity="0.3" stroke-width="1.6" fill="none"/>
<rect x="196" y="256.6" width="40.6" height="15.6" rx="2.5" fill="none" stroke="#fff" stroke-width="4"/>
</g>
</svg>
<div id="panel"><h2>Display Mode</h2><div class="btn sel" style="left:13px"><span style="letter-spacing:0px">Fixed</span><br>Scale</div><div class="btn" style="left:159px"><span style="letter-spacing:0.75px">Variable</span><br>Scale</div><div class="btn" style="left:305px"><span style="letter-spacing:1.5px">Good/</span><br>Bad</div></div>
</body></html>
